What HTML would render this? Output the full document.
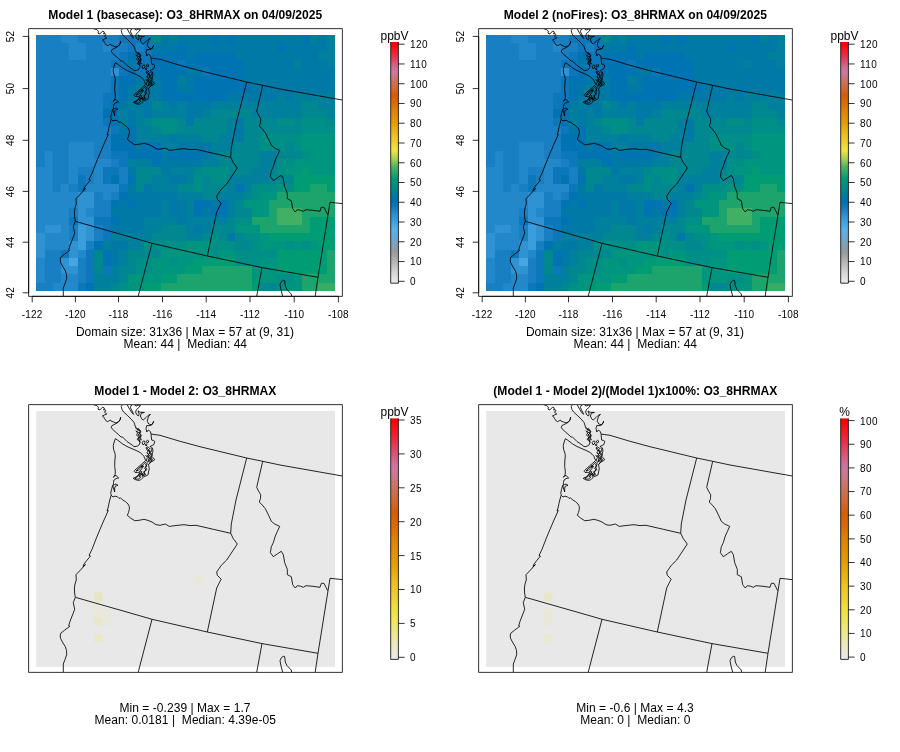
<!DOCTYPE html>
<html><head><meta charset="utf-8"><title>O3_8HRMAX model comparison</title>
<style>html,body{margin:0;padding:0;background:#fff}svg{display:block}text{white-space:pre}</style>
</head><body>
<svg width="900" height="752" viewBox="0 0 900 752">
<rect width="900" height="752" fill="#fff"/>
<defs>
<clipPath id="cp0"><rect x="28.70" y="28.70" width="313.60" height="267.60"/></clipPath>
<clipPath id="cp1"><rect x="478.70" y="28.70" width="313.60" height="267.60"/></clipPath>
<clipPath id="cp2"><rect x="28.70" y="404.70" width="313.60" height="267.60"/></clipPath>
<clipPath id="cp3"><rect x="478.70" y="404.70" width="313.60" height="267.60"/></clipPath>
</defs>
<g shape-rendering="crispEdges">
<rect x="36.20" y="35.00" width="25.20" height="8.55" fill="#1880c2"/>
<rect x="61.10" y="35.00" width="16.90" height="8.55" fill="#2388c9"/>
<rect x="77.70" y="35.00" width="41.80" height="8.55" fill="#1880c2"/>
<rect x="119.20" y="35.00" width="33.50" height="8.55" fill="#0c77ba"/>
<rect x="152.40" y="35.00" width="8.60" height="8.55" fill="#00878f"/>
<rect x="160.70" y="35.00" width="8.60" height="8.55" fill="#0079a6"/>
<rect x="169.00" y="35.00" width="8.60" height="8.55" fill="#00809c"/>
<rect x="177.30" y="35.00" width="33.50" height="8.55" fill="#0079a6"/>
<rect x="210.50" y="35.00" width="8.60" height="8.55" fill="#0073b3"/>
<rect x="218.80" y="35.00" width="8.60" height="8.55" fill="#0079a6"/>
<rect x="227.10" y="35.00" width="8.60" height="8.55" fill="#0073b3"/>
<rect x="235.40" y="35.00" width="66.70" height="8.55" fill="#0079a6"/>
<rect x="301.80" y="35.00" width="8.60" height="8.55" fill="#0073b3"/>
<rect x="310.10" y="35.00" width="8.60" height="8.55" fill="#00809c"/>
<rect x="318.40" y="35.00" width="8.60" height="8.55" fill="#0079a6"/>
<rect x="326.70" y="35.00" width="8.60" height="8.55" fill="#00809c"/>
<rect x="36.20" y="43.25" width="33.50" height="8.55" fill="#1880c2"/>
<rect x="69.40" y="43.25" width="16.90" height="8.55" fill="#2388c9"/>
<rect x="86.00" y="43.25" width="16.90" height="8.55" fill="#1880c2"/>
<rect x="102.60" y="43.25" width="8.60" height="8.55" fill="#2388c9"/>
<rect x="110.90" y="43.25" width="16.90" height="8.55" fill="#1880c2"/>
<rect x="127.50" y="43.25" width="8.60" height="8.55" fill="#0c77ba"/>
<rect x="135.80" y="43.25" width="8.60" height="8.55" fill="#1880c2"/>
<rect x="144.10" y="43.25" width="8.60" height="8.55" fill="#0c77ba"/>
<rect x="152.40" y="43.25" width="25.20" height="8.55" fill="#0079a6"/>
<rect x="177.30" y="43.25" width="8.60" height="8.55" fill="#0073b3"/>
<rect x="185.60" y="43.25" width="91.60" height="8.55" fill="#0079a6"/>
<rect x="276.90" y="43.25" width="8.60" height="8.55" fill="#0073b3"/>
<rect x="285.20" y="43.25" width="41.80" height="8.55" fill="#0079a6"/>
<rect x="326.70" y="43.25" width="8.60" height="8.55" fill="#00809c"/>
<rect x="36.20" y="51.50" width="33.50" height="8.55" fill="#1880c2"/>
<rect x="69.40" y="51.50" width="16.90" height="8.55" fill="#2388c9"/>
<rect x="86.00" y="51.50" width="33.50" height="8.55" fill="#1880c2"/>
<rect x="119.20" y="51.50" width="8.60" height="8.55" fill="#0c77ba"/>
<rect x="127.50" y="51.50" width="8.60" height="8.55" fill="#0073b3"/>
<rect x="135.80" y="51.50" width="16.90" height="8.55" fill="#0c77ba"/>
<rect x="152.40" y="51.50" width="33.50" height="8.55" fill="#0073b3"/>
<rect x="185.60" y="51.50" width="8.60" height="8.55" fill="#0079a6"/>
<rect x="193.90" y="51.50" width="41.80" height="8.55" fill="#0073b3"/>
<rect x="235.40" y="51.50" width="83.30" height="8.55" fill="#0079a6"/>
<rect x="318.40" y="51.50" width="16.90" height="8.55" fill="#00809c"/>
<rect x="36.20" y="59.75" width="75.00" height="8.55" fill="#1880c2"/>
<rect x="110.90" y="59.75" width="16.90" height="8.55" fill="#0c77ba"/>
<rect x="127.50" y="59.75" width="8.60" height="8.55" fill="#0079a6"/>
<rect x="135.80" y="59.75" width="16.90" height="8.55" fill="#0c77ba"/>
<rect x="152.40" y="59.75" width="25.20" height="8.55" fill="#0073b3"/>
<rect x="177.30" y="59.75" width="8.60" height="8.55" fill="#0c77ba"/>
<rect x="185.60" y="59.75" width="58.40" height="8.55" fill="#0073b3"/>
<rect x="243.70" y="59.75" width="50.10" height="8.55" fill="#0079a6"/>
<rect x="293.50" y="59.75" width="8.60" height="8.55" fill="#00809c"/>
<rect x="301.80" y="59.75" width="25.20" height="8.55" fill="#0079a6"/>
<rect x="326.70" y="59.75" width="8.60" height="8.55" fill="#00809c"/>
<rect x="36.20" y="68.01" width="75.00" height="8.55" fill="#1880c2"/>
<rect x="110.90" y="68.01" width="8.60" height="8.55" fill="#2f93d3"/>
<rect x="119.20" y="68.01" width="8.60" height="8.55" fill="#0c77ba"/>
<rect x="127.50" y="68.01" width="8.60" height="8.55" fill="#0073b3"/>
<rect x="135.80" y="68.01" width="16.90" height="8.55" fill="#0c77ba"/>
<rect x="152.40" y="68.01" width="33.50" height="8.55" fill="#0073b3"/>
<rect x="185.60" y="68.01" width="16.90" height="8.55" fill="#0079a6"/>
<rect x="202.20" y="68.01" width="8.60" height="8.55" fill="#0c77ba"/>
<rect x="210.50" y="68.01" width="33.50" height="8.55" fill="#0073b3"/>
<rect x="243.70" y="68.01" width="91.60" height="8.55" fill="#0079a6"/>
<rect x="36.20" y="76.26" width="75.00" height="8.55" fill="#1880c2"/>
<rect x="110.90" y="76.26" width="8.60" height="8.55" fill="#0c77ba"/>
<rect x="119.20" y="76.26" width="16.90" height="8.55" fill="#0073b3"/>
<rect x="135.80" y="76.26" width="25.20" height="8.55" fill="#0079a6"/>
<rect x="160.70" y="76.26" width="16.90" height="8.55" fill="#0073b3"/>
<rect x="177.30" y="76.26" width="8.60" height="8.55" fill="#00809c"/>
<rect x="185.60" y="76.26" width="8.60" height="8.55" fill="#0079a6"/>
<rect x="193.90" y="76.26" width="50.10" height="8.55" fill="#0073b3"/>
<rect x="243.70" y="76.26" width="91.60" height="8.55" fill="#0079a6"/>
<rect x="36.20" y="84.51" width="75.00" height="8.55" fill="#1880c2"/>
<rect x="110.90" y="84.51" width="8.60" height="8.55" fill="#0c77ba"/>
<rect x="119.20" y="84.51" width="8.60" height="8.55" fill="#0073b3"/>
<rect x="127.50" y="84.51" width="8.60" height="8.55" fill="#0079a6"/>
<rect x="135.80" y="84.51" width="8.60" height="8.55" fill="#00809c"/>
<rect x="144.10" y="84.51" width="16.90" height="8.55" fill="#0079a6"/>
<rect x="160.70" y="84.51" width="16.90" height="8.55" fill="#0073b3"/>
<rect x="177.30" y="84.51" width="16.90" height="8.55" fill="#0079a6"/>
<rect x="193.90" y="84.51" width="58.40" height="8.55" fill="#0073b3"/>
<rect x="252.00" y="84.51" width="83.30" height="8.55" fill="#0079a6"/>
<rect x="36.20" y="92.76" width="66.70" height="8.55" fill="#1880c2"/>
<rect x="102.60" y="92.76" width="16.90" height="8.55" fill="#0c77ba"/>
<rect x="119.20" y="92.76" width="8.60" height="8.55" fill="#0073b3"/>
<rect x="127.50" y="92.76" width="8.60" height="8.55" fill="#0079a6"/>
<rect x="135.80" y="92.76" width="8.60" height="8.55" fill="#00809c"/>
<rect x="144.10" y="92.76" width="16.90" height="8.55" fill="#0079a6"/>
<rect x="160.70" y="92.76" width="66.70" height="8.55" fill="#0073b3"/>
<rect x="227.10" y="92.76" width="50.10" height="8.55" fill="#0079a6"/>
<rect x="276.90" y="92.76" width="8.60" height="8.55" fill="#00809c"/>
<rect x="285.20" y="92.76" width="8.60" height="8.55" fill="#0079a6"/>
<rect x="293.50" y="92.76" width="41.80" height="8.55" fill="#00809c"/>
<rect x="36.20" y="101.01" width="66.70" height="8.55" fill="#1880c2"/>
<rect x="102.60" y="101.01" width="8.60" height="8.55" fill="#0c77ba"/>
<rect x="110.90" y="101.01" width="8.60" height="8.55" fill="#0073b3"/>
<rect x="119.20" y="101.01" width="8.60" height="8.55" fill="#0079a6"/>
<rect x="127.50" y="101.01" width="8.60" height="8.55" fill="#00809c"/>
<rect x="135.80" y="101.01" width="16.90" height="8.55" fill="#0079a6"/>
<rect x="152.40" y="101.01" width="8.60" height="8.55" fill="#00878f"/>
<rect x="160.70" y="101.01" width="8.60" height="8.55" fill="#00809c"/>
<rect x="169.00" y="101.01" width="8.60" height="8.55" fill="#0079a6"/>
<rect x="177.30" y="101.01" width="8.60" height="8.55" fill="#00809c"/>
<rect x="185.60" y="101.01" width="25.20" height="8.55" fill="#0079a6"/>
<rect x="210.50" y="101.01" width="91.60" height="8.55" fill="#00809c"/>
<rect x="301.80" y="101.01" width="16.90" height="8.55" fill="#00878f"/>
<rect x="318.40" y="101.01" width="16.90" height="8.55" fill="#00809c"/>
<rect x="36.20" y="109.26" width="66.70" height="8.55" fill="#1880c2"/>
<rect x="102.60" y="109.26" width="16.90" height="8.55" fill="#0073b3"/>
<rect x="119.20" y="109.26" width="8.60" height="8.55" fill="#00809c"/>
<rect x="127.50" y="109.26" width="8.60" height="8.55" fill="#0079a6"/>
<rect x="135.80" y="109.26" width="8.60" height="8.55" fill="#00809c"/>
<rect x="144.10" y="109.26" width="8.60" height="8.55" fill="#0079a6"/>
<rect x="152.40" y="109.26" width="33.50" height="8.55" fill="#00809c"/>
<rect x="185.60" y="109.26" width="16.90" height="8.55" fill="#0079a6"/>
<rect x="202.20" y="109.26" width="8.60" height="8.55" fill="#00809c"/>
<rect x="210.50" y="109.26" width="41.80" height="8.55" fill="#00878f"/>
<rect x="252.00" y="109.26" width="50.10" height="8.55" fill="#00809c"/>
<rect x="301.80" y="109.26" width="25.20" height="8.55" fill="#00878f"/>
<rect x="326.70" y="109.26" width="8.60" height="8.55" fill="#00809c"/>
<rect x="36.20" y="117.52" width="66.70" height="8.55" fill="#1880c2"/>
<rect x="102.60" y="117.52" width="8.60" height="8.55" fill="#0c77ba"/>
<rect x="110.90" y="117.52" width="8.60" height="8.55" fill="#0073b3"/>
<rect x="119.20" y="117.52" width="8.60" height="8.55" fill="#00809c"/>
<rect x="127.50" y="117.52" width="8.60" height="8.55" fill="#0079a6"/>
<rect x="135.80" y="117.52" width="8.60" height="8.55" fill="#00809c"/>
<rect x="144.10" y="117.52" width="8.60" height="8.55" fill="#00878f"/>
<rect x="152.40" y="117.52" width="25.20" height="8.55" fill="#008f86"/>
<rect x="177.30" y="117.52" width="8.60" height="8.55" fill="#00878f"/>
<rect x="185.60" y="117.52" width="8.60" height="8.55" fill="#0079a6"/>
<rect x="193.90" y="117.52" width="33.50" height="8.55" fill="#00878f"/>
<rect x="227.10" y="117.52" width="8.60" height="8.55" fill="#00809c"/>
<rect x="235.40" y="117.52" width="8.60" height="8.55" fill="#0079a6"/>
<rect x="243.70" y="117.52" width="33.50" height="8.55" fill="#00878f"/>
<rect x="276.90" y="117.52" width="16.90" height="8.55" fill="#008f86"/>
<rect x="293.50" y="117.52" width="8.60" height="8.55" fill="#00878f"/>
<rect x="301.80" y="117.52" width="25.20" height="8.55" fill="#008f86"/>
<rect x="326.70" y="117.52" width="8.60" height="8.55" fill="#00878f"/>
<rect x="36.20" y="125.77" width="75.00" height="8.55" fill="#1880c2"/>
<rect x="110.90" y="125.77" width="8.60" height="8.55" fill="#0c77ba"/>
<rect x="119.20" y="125.77" width="8.60" height="8.55" fill="#0079a6"/>
<rect x="127.50" y="125.77" width="8.60" height="8.55" fill="#0073b3"/>
<rect x="135.80" y="125.77" width="16.90" height="8.55" fill="#00809c"/>
<rect x="152.40" y="125.77" width="8.60" height="8.55" fill="#00878f"/>
<rect x="160.70" y="125.77" width="16.90" height="8.55" fill="#008f86"/>
<rect x="177.30" y="125.77" width="50.10" height="8.55" fill="#00878f"/>
<rect x="227.10" y="125.77" width="8.60" height="8.55" fill="#00809c"/>
<rect x="235.40" y="125.77" width="8.60" height="8.55" fill="#0079a6"/>
<rect x="243.70" y="125.77" width="58.40" height="8.55" fill="#00878f"/>
<rect x="301.80" y="125.77" width="33.50" height="8.55" fill="#008f86"/>
<rect x="36.20" y="134.02" width="75.00" height="8.55" fill="#1880c2"/>
<rect x="110.90" y="134.02" width="25.20" height="8.55" fill="#0073b3"/>
<rect x="135.80" y="134.02" width="33.50" height="8.55" fill="#00809c"/>
<rect x="169.00" y="134.02" width="8.60" height="8.55" fill="#0079a6"/>
<rect x="177.30" y="134.02" width="25.20" height="8.55" fill="#00809c"/>
<rect x="202.20" y="134.02" width="16.90" height="8.55" fill="#00878f"/>
<rect x="218.80" y="134.02" width="16.90" height="8.55" fill="#00809c"/>
<rect x="235.40" y="134.02" width="8.60" height="8.55" fill="#0079a6"/>
<rect x="243.70" y="134.02" width="16.90" height="8.55" fill="#00878f"/>
<rect x="260.30" y="134.02" width="41.80" height="8.55" fill="#008f86"/>
<rect x="301.80" y="134.02" width="33.50" height="8.55" fill="#00957e"/>
<rect x="36.20" y="142.27" width="33.50" height="8.55" fill="#1880c2"/>
<rect x="69.40" y="142.27" width="25.20" height="8.55" fill="#2388c9"/>
<rect x="94.30" y="142.27" width="16.90" height="8.55" fill="#1880c2"/>
<rect x="110.90" y="142.27" width="25.20" height="8.55" fill="#0073b3"/>
<rect x="135.80" y="142.27" width="8.60" height="8.55" fill="#0079a6"/>
<rect x="144.10" y="142.27" width="16.90" height="8.55" fill="#0073b3"/>
<rect x="160.70" y="142.27" width="16.90" height="8.55" fill="#00809c"/>
<rect x="177.30" y="142.27" width="33.50" height="8.55" fill="#0079a6"/>
<rect x="210.50" y="142.27" width="25.20" height="8.55" fill="#00809c"/>
<rect x="235.40" y="142.27" width="25.20" height="8.55" fill="#00878f"/>
<rect x="260.30" y="142.27" width="25.20" height="8.55" fill="#008f86"/>
<rect x="285.20" y="142.27" width="8.60" height="8.55" fill="#00878f"/>
<rect x="293.50" y="142.27" width="8.60" height="8.55" fill="#008f86"/>
<rect x="301.80" y="142.27" width="33.50" height="8.55" fill="#00957e"/>
<rect x="36.20" y="150.52" width="8.60" height="8.55" fill="#1880c2"/>
<rect x="44.50" y="150.52" width="8.60" height="8.55" fill="#2388c9"/>
<rect x="52.80" y="150.52" width="16.90" height="8.55" fill="#1880c2"/>
<rect x="69.40" y="150.52" width="25.20" height="8.55" fill="#2388c9"/>
<rect x="94.30" y="150.52" width="16.90" height="8.55" fill="#1880c2"/>
<rect x="110.90" y="150.52" width="16.90" height="8.55" fill="#0c77ba"/>
<rect x="127.50" y="150.52" width="33.50" height="8.55" fill="#0073b3"/>
<rect x="160.70" y="150.52" width="8.60" height="8.55" fill="#0079a6"/>
<rect x="169.00" y="150.52" width="33.50" height="8.55" fill="#0073b3"/>
<rect x="202.20" y="150.52" width="8.60" height="8.55" fill="#0079a6"/>
<rect x="210.50" y="150.52" width="8.60" height="8.55" fill="#00809c"/>
<rect x="218.80" y="150.52" width="41.80" height="8.55" fill="#00878f"/>
<rect x="260.30" y="150.52" width="16.90" height="8.55" fill="#00809c"/>
<rect x="276.90" y="150.52" width="25.20" height="8.55" fill="#00878f"/>
<rect x="301.80" y="150.52" width="8.60" height="8.55" fill="#008f86"/>
<rect x="310.10" y="150.52" width="25.20" height="8.55" fill="#00957e"/>
<rect x="36.20" y="158.77" width="8.60" height="8.55" fill="#1880c2"/>
<rect x="44.50" y="158.77" width="8.60" height="8.55" fill="#2388c9"/>
<rect x="52.80" y="158.77" width="16.90" height="8.55" fill="#1880c2"/>
<rect x="69.40" y="158.77" width="41.80" height="8.55" fill="#2388c9"/>
<rect x="110.90" y="158.77" width="8.60" height="8.55" fill="#1880c2"/>
<rect x="119.20" y="158.77" width="8.60" height="8.55" fill="#0c77ba"/>
<rect x="127.50" y="158.77" width="25.20" height="8.55" fill="#00809c"/>
<rect x="152.40" y="158.77" width="8.60" height="8.55" fill="#0073b3"/>
<rect x="160.70" y="158.77" width="41.80" height="8.55" fill="#0079a6"/>
<rect x="202.20" y="158.77" width="16.90" height="8.55" fill="#00809c"/>
<rect x="218.80" y="158.77" width="41.80" height="8.55" fill="#00878f"/>
<rect x="260.30" y="158.77" width="16.90" height="8.55" fill="#00809c"/>
<rect x="276.90" y="158.77" width="16.90" height="8.55" fill="#008f86"/>
<rect x="293.50" y="158.77" width="41.80" height="8.55" fill="#00957e"/>
<rect x="36.20" y="167.03" width="16.90" height="8.55" fill="#2388c9"/>
<rect x="52.80" y="167.03" width="16.90" height="8.55" fill="#1880c2"/>
<rect x="69.40" y="167.03" width="8.60" height="8.55" fill="#2388c9"/>
<rect x="77.70" y="167.03" width="16.90" height="8.55" fill="#1880c2"/>
<rect x="94.30" y="167.03" width="8.60" height="8.55" fill="#2388c9"/>
<rect x="102.60" y="167.03" width="16.90" height="8.55" fill="#0c77ba"/>
<rect x="119.20" y="167.03" width="8.60" height="8.55" fill="#1880c2"/>
<rect x="127.50" y="167.03" width="8.60" height="8.55" fill="#0079a6"/>
<rect x="135.80" y="167.03" width="25.20" height="8.55" fill="#00878f"/>
<rect x="160.70" y="167.03" width="8.60" height="8.55" fill="#0079a6"/>
<rect x="169.00" y="167.03" width="25.20" height="8.55" fill="#00809c"/>
<rect x="193.90" y="167.03" width="8.60" height="8.55" fill="#00878f"/>
<rect x="202.20" y="167.03" width="25.20" height="8.55" fill="#008f86"/>
<rect x="227.10" y="167.03" width="25.20" height="8.55" fill="#00878f"/>
<rect x="252.00" y="167.03" width="16.90" height="8.55" fill="#00809c"/>
<rect x="268.60" y="167.03" width="8.60" height="8.55" fill="#00878f"/>
<rect x="276.90" y="167.03" width="8.60" height="8.55" fill="#008f86"/>
<rect x="285.20" y="167.03" width="16.90" height="8.55" fill="#00957e"/>
<rect x="301.80" y="167.03" width="8.60" height="8.55" fill="#009c74"/>
<rect x="310.10" y="167.03" width="25.20" height="8.55" fill="#00957e"/>
<rect x="36.20" y="175.28" width="16.90" height="8.55" fill="#2388c9"/>
<rect x="52.80" y="175.28" width="16.90" height="8.55" fill="#1880c2"/>
<rect x="69.40" y="175.28" width="8.60" height="8.55" fill="#2388c9"/>
<rect x="77.70" y="175.28" width="8.60" height="8.55" fill="#0c77ba"/>
<rect x="86.00" y="175.28" width="8.60" height="8.55" fill="#1880c2"/>
<rect x="94.30" y="175.28" width="8.60" height="8.55" fill="#2388c9"/>
<rect x="102.60" y="175.28" width="8.60" height="8.55" fill="#0c77ba"/>
<rect x="110.90" y="175.28" width="8.60" height="8.55" fill="#0073b3"/>
<rect x="119.20" y="175.28" width="8.60" height="8.55" fill="#1880c2"/>
<rect x="127.50" y="175.28" width="8.60" height="8.55" fill="#0073b3"/>
<rect x="135.80" y="175.28" width="16.90" height="8.55" fill="#00878f"/>
<rect x="152.40" y="175.28" width="16.90" height="8.55" fill="#00809c"/>
<rect x="169.00" y="175.28" width="16.90" height="8.55" fill="#0079a6"/>
<rect x="185.60" y="175.28" width="8.60" height="8.55" fill="#00809c"/>
<rect x="193.90" y="175.28" width="8.60" height="8.55" fill="#008f86"/>
<rect x="202.20" y="175.28" width="8.60" height="8.55" fill="#00878f"/>
<rect x="210.50" y="175.28" width="16.90" height="8.55" fill="#008f86"/>
<rect x="227.10" y="175.28" width="41.80" height="8.55" fill="#00809c"/>
<rect x="268.60" y="175.28" width="25.20" height="8.55" fill="#00878f"/>
<rect x="293.50" y="175.28" width="41.80" height="8.55" fill="#009c74"/>
<rect x="36.20" y="183.53" width="16.90" height="8.55" fill="#2388c9"/>
<rect x="52.80" y="183.53" width="8.60" height="8.55" fill="#1880c2"/>
<rect x="61.10" y="183.53" width="8.60" height="8.55" fill="#2388c9"/>
<rect x="69.40" y="183.53" width="8.60" height="8.55" fill="#1880c2"/>
<rect x="77.70" y="183.53" width="8.60" height="8.55" fill="#0c77ba"/>
<rect x="86.00" y="183.53" width="33.50" height="8.55" fill="#2388c9"/>
<rect x="119.20" y="183.53" width="8.60" height="8.55" fill="#0c77ba"/>
<rect x="127.50" y="183.53" width="8.60" height="8.55" fill="#0079a6"/>
<rect x="135.80" y="183.53" width="8.60" height="8.55" fill="#00878f"/>
<rect x="144.10" y="183.53" width="8.60" height="8.55" fill="#0079a6"/>
<rect x="152.40" y="183.53" width="25.20" height="8.55" fill="#00809c"/>
<rect x="177.30" y="183.53" width="16.90" height="8.55" fill="#00878f"/>
<rect x="193.90" y="183.53" width="8.60" height="8.55" fill="#008f86"/>
<rect x="202.20" y="183.53" width="25.20" height="8.55" fill="#00878f"/>
<rect x="227.10" y="183.53" width="8.60" height="8.55" fill="#00809c"/>
<rect x="235.40" y="183.53" width="8.60" height="8.55" fill="#0073b3"/>
<rect x="243.70" y="183.53" width="8.60" height="8.55" fill="#00809c"/>
<rect x="252.00" y="183.53" width="25.20" height="8.55" fill="#008f86"/>
<rect x="276.90" y="183.53" width="8.60" height="8.55" fill="#00957e"/>
<rect x="285.20" y="183.53" width="8.60" height="8.55" fill="#008f86"/>
<rect x="293.50" y="183.53" width="16.90" height="8.55" fill="#009c74"/>
<rect x="310.10" y="183.53" width="16.90" height="8.55" fill="#1ca46c"/>
<rect x="326.70" y="183.53" width="8.60" height="8.55" fill="#009c74"/>
<rect x="36.20" y="191.78" width="41.80" height="8.55" fill="#2388c9"/>
<rect x="77.70" y="191.78" width="16.90" height="8.55" fill="#2f93d3"/>
<rect x="94.30" y="191.78" width="8.60" height="8.55" fill="#1880c2"/>
<rect x="102.60" y="191.78" width="8.60" height="8.55" fill="#2388c9"/>
<rect x="110.90" y="191.78" width="8.60" height="8.55" fill="#1880c2"/>
<rect x="119.20" y="191.78" width="8.60" height="8.55" fill="#0073b3"/>
<rect x="127.50" y="191.78" width="50.10" height="8.55" fill="#0079a6"/>
<rect x="177.30" y="191.78" width="25.20" height="8.55" fill="#00809c"/>
<rect x="202.20" y="191.78" width="16.90" height="8.55" fill="#00878f"/>
<rect x="218.80" y="191.78" width="25.20" height="8.55" fill="#00809c"/>
<rect x="243.70" y="191.78" width="8.60" height="8.55" fill="#00878f"/>
<rect x="252.00" y="191.78" width="8.60" height="8.55" fill="#008f86"/>
<rect x="260.30" y="191.78" width="16.90" height="8.55" fill="#00957e"/>
<rect x="276.90" y="191.78" width="58.40" height="8.55" fill="#1ca46c"/>
<rect x="36.20" y="200.03" width="41.80" height="8.55" fill="#2388c9"/>
<rect x="77.70" y="200.03" width="16.90" height="8.55" fill="#2f93d3"/>
<rect x="94.30" y="200.03" width="16.90" height="8.55" fill="#1880c2"/>
<rect x="110.90" y="200.03" width="8.60" height="8.55" fill="#0073b3"/>
<rect x="119.20" y="200.03" width="8.60" height="8.55" fill="#0079a6"/>
<rect x="127.50" y="200.03" width="8.60" height="8.55" fill="#0073b3"/>
<rect x="135.80" y="200.03" width="25.20" height="8.55" fill="#0079a6"/>
<rect x="160.70" y="200.03" width="8.60" height="8.55" fill="#00809c"/>
<rect x="169.00" y="200.03" width="16.90" height="8.55" fill="#0079a6"/>
<rect x="185.60" y="200.03" width="8.60" height="8.55" fill="#00809c"/>
<rect x="193.90" y="200.03" width="16.90" height="8.55" fill="#0073b3"/>
<rect x="210.50" y="200.03" width="8.60" height="8.55" fill="#0079a6"/>
<rect x="218.80" y="200.03" width="8.60" height="8.55" fill="#0073b3"/>
<rect x="227.10" y="200.03" width="8.60" height="8.55" fill="#00809c"/>
<rect x="235.40" y="200.03" width="8.60" height="8.55" fill="#00878f"/>
<rect x="243.70" y="200.03" width="25.20" height="8.55" fill="#00957e"/>
<rect x="268.60" y="200.03" width="66.70" height="8.55" fill="#1ca46c"/>
<rect x="36.20" y="208.28" width="33.50" height="8.55" fill="#2388c9"/>
<rect x="69.40" y="208.28" width="8.60" height="8.55" fill="#1880c2"/>
<rect x="77.70" y="208.28" width="8.60" height="8.55" fill="#2f93d3"/>
<rect x="86.00" y="208.28" width="8.60" height="8.55" fill="#2388c9"/>
<rect x="94.30" y="208.28" width="16.90" height="8.55" fill="#1880c2"/>
<rect x="110.90" y="208.28" width="50.10" height="8.55" fill="#0079a6"/>
<rect x="160.70" y="208.28" width="8.60" height="8.55" fill="#00809c"/>
<rect x="169.00" y="208.28" width="16.90" height="8.55" fill="#0079a6"/>
<rect x="185.60" y="208.28" width="8.60" height="8.55" fill="#00809c"/>
<rect x="193.90" y="208.28" width="8.60" height="8.55" fill="#0073b3"/>
<rect x="202.20" y="208.28" width="8.60" height="8.55" fill="#0079a6"/>
<rect x="210.50" y="208.28" width="16.90" height="8.55" fill="#0073b3"/>
<rect x="227.10" y="208.28" width="8.60" height="8.55" fill="#00809c"/>
<rect x="235.40" y="208.28" width="16.90" height="8.55" fill="#00878f"/>
<rect x="252.00" y="208.28" width="16.90" height="8.55" fill="#00957e"/>
<rect x="268.60" y="208.28" width="8.60" height="8.55" fill="#1ca46c"/>
<rect x="276.90" y="208.28" width="25.20" height="8.55" fill="#42b064"/>
<rect x="301.80" y="208.28" width="33.50" height="8.55" fill="#1ca46c"/>
<rect x="36.20" y="216.54" width="33.50" height="8.55" fill="#2388c9"/>
<rect x="69.40" y="216.54" width="8.60" height="8.55" fill="#0c77ba"/>
<rect x="77.70" y="216.54" width="16.90" height="8.55" fill="#2f93d3"/>
<rect x="94.30" y="216.54" width="16.90" height="8.55" fill="#0c77ba"/>
<rect x="110.90" y="216.54" width="8.60" height="8.55" fill="#0073b3"/>
<rect x="119.20" y="216.54" width="25.20" height="8.55" fill="#0079a6"/>
<rect x="144.10" y="216.54" width="33.50" height="8.55" fill="#00809c"/>
<rect x="177.30" y="216.54" width="8.60" height="8.55" fill="#0079a6"/>
<rect x="185.60" y="216.54" width="41.80" height="8.55" fill="#00809c"/>
<rect x="227.10" y="216.54" width="8.60" height="8.55" fill="#00878f"/>
<rect x="235.40" y="216.54" width="16.90" height="8.55" fill="#008f86"/>
<rect x="252.00" y="216.54" width="25.20" height="8.55" fill="#1ca46c"/>
<rect x="276.90" y="216.54" width="25.20" height="8.55" fill="#42b064"/>
<rect x="301.80" y="216.54" width="8.60" height="8.55" fill="#1ca46c"/>
<rect x="310.10" y="216.54" width="25.20" height="8.55" fill="#009c74"/>
<rect x="36.20" y="224.79" width="8.60" height="8.55" fill="#2388c9"/>
<rect x="44.50" y="224.79" width="16.90" height="8.55" fill="#2f93d3"/>
<rect x="61.10" y="224.79" width="8.60" height="8.55" fill="#2388c9"/>
<rect x="69.40" y="224.79" width="8.60" height="8.55" fill="#1880c2"/>
<rect x="77.70" y="224.79" width="8.60" height="8.55" fill="#3a9ddc"/>
<rect x="86.00" y="224.79" width="8.60" height="8.55" fill="#2f93d3"/>
<rect x="94.30" y="224.79" width="8.60" height="8.55" fill="#1880c2"/>
<rect x="102.60" y="224.79" width="8.60" height="8.55" fill="#0c77ba"/>
<rect x="110.90" y="224.79" width="33.50" height="8.55" fill="#0079a6"/>
<rect x="144.10" y="224.79" width="16.90" height="8.55" fill="#00809c"/>
<rect x="160.70" y="224.79" width="25.20" height="8.55" fill="#00878f"/>
<rect x="185.60" y="224.79" width="8.60" height="8.55" fill="#00809c"/>
<rect x="193.90" y="224.79" width="8.60" height="8.55" fill="#0079a6"/>
<rect x="202.20" y="224.79" width="8.60" height="8.55" fill="#00809c"/>
<rect x="210.50" y="224.79" width="25.20" height="8.55" fill="#00878f"/>
<rect x="235.40" y="224.79" width="25.20" height="8.55" fill="#00957e"/>
<rect x="260.30" y="224.79" width="50.10" height="8.55" fill="#1ca46c"/>
<rect x="310.10" y="224.79" width="25.20" height="8.55" fill="#009c74"/>
<rect x="36.20" y="233.04" width="8.60" height="8.55" fill="#2f93d3"/>
<rect x="44.50" y="233.04" width="25.20" height="8.55" fill="#2388c9"/>
<rect x="69.40" y="233.04" width="8.60" height="8.55" fill="#1880c2"/>
<rect x="77.70" y="233.04" width="8.60" height="8.55" fill="#3a9ddc"/>
<rect x="86.00" y="233.04" width="8.60" height="8.55" fill="#2f93d3"/>
<rect x="94.30" y="233.04" width="8.60" height="8.55" fill="#1880c2"/>
<rect x="102.60" y="233.04" width="8.60" height="8.55" fill="#0c77ba"/>
<rect x="110.90" y="233.04" width="41.80" height="8.55" fill="#00809c"/>
<rect x="152.40" y="233.04" width="33.50" height="8.55" fill="#00878f"/>
<rect x="185.60" y="233.04" width="16.90" height="8.55" fill="#00809c"/>
<rect x="202.20" y="233.04" width="8.60" height="8.55" fill="#00878f"/>
<rect x="210.50" y="233.04" width="8.60" height="8.55" fill="#008f86"/>
<rect x="218.80" y="233.04" width="8.60" height="8.55" fill="#00878f"/>
<rect x="227.10" y="233.04" width="8.60" height="8.55" fill="#0079a6"/>
<rect x="235.40" y="233.04" width="8.60" height="8.55" fill="#00878f"/>
<rect x="243.70" y="233.04" width="16.90" height="8.55" fill="#008f86"/>
<rect x="260.30" y="233.04" width="8.60" height="8.55" fill="#00957e"/>
<rect x="268.60" y="233.04" width="66.70" height="8.55" fill="#009c74"/>
<rect x="36.20" y="241.29" width="8.60" height="8.55" fill="#2f93d3"/>
<rect x="44.50" y="241.29" width="25.20" height="8.55" fill="#2388c9"/>
<rect x="69.40" y="241.29" width="8.60" height="8.55" fill="#2f93d3"/>
<rect x="77.70" y="241.29" width="8.60" height="8.55" fill="#3a9ddc"/>
<rect x="86.00" y="241.29" width="8.60" height="8.55" fill="#1880c2"/>
<rect x="94.30" y="241.29" width="8.60" height="8.55" fill="#0073b3"/>
<rect x="102.60" y="241.29" width="8.60" height="8.55" fill="#00809c"/>
<rect x="110.90" y="241.29" width="16.90" height="8.55" fill="#0079a6"/>
<rect x="127.50" y="241.29" width="16.90" height="8.55" fill="#00809c"/>
<rect x="144.10" y="241.29" width="41.80" height="8.55" fill="#008f86"/>
<rect x="185.60" y="241.29" width="25.20" height="8.55" fill="#00957e"/>
<rect x="210.50" y="241.29" width="25.20" height="8.55" fill="#008f86"/>
<rect x="235.40" y="241.29" width="16.90" height="8.55" fill="#00878f"/>
<rect x="252.00" y="241.29" width="8.60" height="8.55" fill="#008f86"/>
<rect x="260.30" y="241.29" width="25.20" height="8.55" fill="#00957e"/>
<rect x="285.20" y="241.29" width="8.60" height="8.55" fill="#008f86"/>
<rect x="293.50" y="241.29" width="8.60" height="8.55" fill="#00957e"/>
<rect x="301.80" y="241.29" width="8.60" height="8.55" fill="#008f86"/>
<rect x="310.10" y="241.29" width="8.60" height="8.55" fill="#00957e"/>
<rect x="318.40" y="241.29" width="16.90" height="8.55" fill="#009c74"/>
<rect x="36.20" y="249.54" width="8.60" height="8.55" fill="#2f93d3"/>
<rect x="44.50" y="249.54" width="16.90" height="8.55" fill="#1880c2"/>
<rect x="61.10" y="249.54" width="8.60" height="8.55" fill="#0c77ba"/>
<rect x="69.40" y="249.54" width="8.60" height="8.55" fill="#2f93d3"/>
<rect x="77.70" y="249.54" width="8.60" height="8.55" fill="#2388c9"/>
<rect x="86.00" y="249.54" width="8.60" height="8.55" fill="#0c77ba"/>
<rect x="94.30" y="249.54" width="8.60" height="8.55" fill="#00878f"/>
<rect x="102.60" y="249.54" width="8.60" height="8.55" fill="#0073b3"/>
<rect x="110.90" y="249.54" width="8.60" height="8.55" fill="#0079a6"/>
<rect x="119.20" y="249.54" width="8.60" height="8.55" fill="#00809c"/>
<rect x="127.50" y="249.54" width="33.50" height="8.55" fill="#00878f"/>
<rect x="160.70" y="249.54" width="50.10" height="8.55" fill="#00957e"/>
<rect x="210.50" y="249.54" width="8.60" height="8.55" fill="#008f86"/>
<rect x="218.80" y="249.54" width="16.90" height="8.55" fill="#00957e"/>
<rect x="235.40" y="249.54" width="41.80" height="8.55" fill="#008f86"/>
<rect x="276.90" y="249.54" width="50.10" height="8.55" fill="#009c74"/>
<rect x="326.70" y="249.54" width="8.60" height="8.55" fill="#1ca46c"/>
<rect x="36.20" y="257.79" width="8.60" height="8.55" fill="#2388c9"/>
<rect x="44.50" y="257.79" width="16.90" height="8.55" fill="#1880c2"/>
<rect x="61.10" y="257.79" width="8.60" height="8.55" fill="#2f93d3"/>
<rect x="69.40" y="257.79" width="8.60" height="8.55" fill="#46a6e4"/>
<rect x="77.70" y="257.79" width="8.60" height="8.55" fill="#1880c2"/>
<rect x="86.00" y="257.79" width="8.60" height="8.55" fill="#0c77ba"/>
<rect x="94.30" y="257.79" width="8.60" height="8.55" fill="#00878f"/>
<rect x="102.60" y="257.79" width="8.60" height="8.55" fill="#0073b3"/>
<rect x="110.90" y="257.79" width="8.60" height="8.55" fill="#0079a6"/>
<rect x="119.20" y="257.79" width="8.60" height="8.55" fill="#00809c"/>
<rect x="127.50" y="257.79" width="8.60" height="8.55" fill="#00878f"/>
<rect x="135.80" y="257.79" width="16.90" height="8.55" fill="#008f86"/>
<rect x="152.40" y="257.79" width="16.90" height="8.55" fill="#00957e"/>
<rect x="169.00" y="257.79" width="8.60" height="8.55" fill="#008f86"/>
<rect x="177.30" y="257.79" width="16.90" height="8.55" fill="#00957e"/>
<rect x="193.90" y="257.79" width="41.80" height="8.55" fill="#009c74"/>
<rect x="235.40" y="257.79" width="25.20" height="8.55" fill="#008f86"/>
<rect x="260.30" y="257.79" width="16.90" height="8.55" fill="#00957e"/>
<rect x="276.90" y="257.79" width="50.10" height="8.55" fill="#009c74"/>
<rect x="326.70" y="257.79" width="8.60" height="8.55" fill="#1ca46c"/>
<rect x="36.20" y="266.05" width="8.60" height="8.55" fill="#2388c9"/>
<rect x="44.50" y="266.05" width="16.90" height="8.55" fill="#1880c2"/>
<rect x="61.10" y="266.05" width="16.90" height="8.55" fill="#2f93d3"/>
<rect x="77.70" y="266.05" width="8.60" height="8.55" fill="#1880c2"/>
<rect x="86.00" y="266.05" width="8.60" height="8.55" fill="#0c77ba"/>
<rect x="94.30" y="266.05" width="8.60" height="8.55" fill="#00878f"/>
<rect x="102.60" y="266.05" width="8.60" height="8.55" fill="#0c77ba"/>
<rect x="110.90" y="266.05" width="8.60" height="8.55" fill="#00809c"/>
<rect x="119.20" y="266.05" width="16.90" height="8.55" fill="#00878f"/>
<rect x="135.80" y="266.05" width="16.90" height="8.55" fill="#008f86"/>
<rect x="152.40" y="266.05" width="33.50" height="8.55" fill="#00957e"/>
<rect x="185.60" y="266.05" width="16.90" height="8.55" fill="#009c74"/>
<rect x="202.20" y="266.05" width="50.10" height="8.55" fill="#1ca46c"/>
<rect x="252.00" y="266.05" width="25.20" height="8.55" fill="#00957e"/>
<rect x="276.90" y="266.05" width="50.10" height="8.55" fill="#009c74"/>
<rect x="326.70" y="266.05" width="8.60" height="8.55" fill="#1ca46c"/>
<rect x="36.20" y="274.30" width="8.60" height="8.55" fill="#2388c9"/>
<rect x="44.50" y="274.30" width="16.90" height="8.55" fill="#1880c2"/>
<rect x="61.10" y="274.30" width="16.90" height="8.55" fill="#2388c9"/>
<rect x="77.70" y="274.30" width="8.60" height="8.55" fill="#1880c2"/>
<rect x="86.00" y="274.30" width="8.60" height="8.55" fill="#0c77ba"/>
<rect x="94.30" y="274.30" width="25.20" height="8.55" fill="#00809c"/>
<rect x="119.20" y="274.30" width="8.60" height="8.55" fill="#00878f"/>
<rect x="127.50" y="274.30" width="33.50" height="8.55" fill="#00957e"/>
<rect x="160.70" y="274.30" width="16.90" height="8.55" fill="#009c74"/>
<rect x="177.30" y="274.30" width="75.00" height="8.55" fill="#1ca46c"/>
<rect x="252.00" y="274.30" width="25.20" height="8.55" fill="#00957e"/>
<rect x="276.90" y="274.30" width="16.90" height="8.55" fill="#008f86"/>
<rect x="293.50" y="274.30" width="8.60" height="8.55" fill="#00957e"/>
<rect x="301.80" y="274.30" width="33.50" height="8.55" fill="#1ca46c"/>
<rect x="36.20" y="282.55" width="16.90" height="8.55" fill="#1880c2"/>
<rect x="52.80" y="282.55" width="25.20" height="8.55" fill="#2388c9"/>
<rect x="77.70" y="282.55" width="8.60" height="8.55" fill="#0c77ba"/>
<rect x="86.00" y="282.55" width="8.60" height="8.55" fill="#0073b3"/>
<rect x="94.30" y="282.55" width="16.90" height="8.55" fill="#00809c"/>
<rect x="110.90" y="282.55" width="8.60" height="8.55" fill="#00878f"/>
<rect x="119.20" y="282.55" width="8.60" height="8.55" fill="#008f86"/>
<rect x="127.50" y="282.55" width="16.90" height="8.55" fill="#00957e"/>
<rect x="144.10" y="282.55" width="16.90" height="8.55" fill="#009c74"/>
<rect x="160.70" y="282.55" width="91.60" height="8.55" fill="#1ca46c"/>
<rect x="252.00" y="282.55" width="8.60" height="8.55" fill="#009c74"/>
<rect x="260.30" y="282.55" width="16.90" height="8.55" fill="#00878f"/>
<rect x="276.90" y="282.55" width="8.60" height="8.55" fill="#008f86"/>
<rect x="285.20" y="282.55" width="16.90" height="8.55" fill="#00957e"/>
<rect x="301.80" y="282.55" width="16.90" height="8.55" fill="#1ca46c"/>
<rect x="318.40" y="282.55" width="16.90" height="8.55" fill="#36ac66"/>
</g>
<g clip-path="url(#cp0)" fill="none" stroke="#000" stroke-width="0.85" stroke-linejoin="round"><path transform="translate(0,0)" d="M93.6 28.7 L96.8 29.6 L98.4 31.2 L98.0 33.2 L100.0 34.0 L101.2 32.4 L102.8 31.2 L104.4 32.0 L103.6 34.0 L105.2 33.6 L106.0 34.8 L104.4 36.0 L106.8 38.0 L104.8 38.8 L102.4 40.0 L103.6 40.8 L104.4 42.4 L106.0 44.8 L107.6 45.6 L109.2 44.8 L110.4 44.0 L111.2 45.2 L113.6 46.0 L116.0 47.0 L118.8 45.6 L120.4 43.2 L120.6 41.2 L120.0 44.0 L118.0 46.4 L115.2 48.0 L112.0 49.6 L111.2 51.2 L112.4 53.2 L116.0 56.4 L120.0 60.0 L121.2 61.2 L122.3 60.8 L127.0 65.5 L132.0 68.9 L133.8 70.4 L135.0 70.7 L137.5 70.0 L139.1 68.9 L139.9 66.8 L139.3 65.0 L138.6 62.5 L140.5 60.0 L139.8 57.5 L141.0 55.5 L139.0 54.2 L136.1 52.7 L135.2 50.0 L134.0 46.4 L131.2 43.2 L127.2 39.2 L123.6 36.0 L122.0 33.6 L121.2 30.4 L122.4 28.8"/><path transform="translate(0,0)" d="M136.5 51.5 L138.5 54.0 L137.3 55.5 L139.5 57.5 L138.0 59.0 L140.3 60.5 L138.2 62.0 L140.6 63.8 L139.0 65.2 L140.8 66.2"/><path transform="translate(0,0)" d="M135.8 54.5 L137.6 57.0 L136.6 59.0 L138.7 61.2 L137.2 63.5 L139.2 64.5"/><path transform="translate(0,0)" d="M138.4 52.2 L140.2 54.8 L139.4 57.0 L141.3 59.2 L140.4 62.0 L141.6 64.2"/><path transform="translate(0,0)" d="M127.2 28.8 L129.6 33.2 L131.6 36.4 L133.6 38.4 L132.6 36.0 L131.6 34.0 L130.4 31.6 L131.0 29.6 L132.4 28.8"/><path transform="translate(0,0)" d="M140.4 29.2 L139.2 31.2 L136.4 33.6 L135.6 36.0 L136.8 38.8 L138.4 40.0 L139.2 38.0 L138.0 34.8 L139.4 35.8 L140.8 36.4 L144.4 36.4 L141.4 37.2 L140.4 40.0 L141.6 42.8 L143.2 44.0 L146.4 41.2 L148.4 39.2 L150.4 38.4 L148.4 40.8 L147.2 45.2 L148.8 48.0 L151.2 48.8 L153.2 46.8 L153.6 45.2 L152.4 48.4 L150.0 49.6 L146.8 49.6 L146.0 52.4 L146.8 56.0 L148.4 54.0 L150.4 55.6 L151.1 58.1"/><path transform="translate(0,0)" d="M134.4 28.8 L136.2 30.0 L138.4 29.2 L140.4 29.2"/><path transform="translate(0,0)" d="M151.1 58.1 L160.0 59.3 L180.0 65.3 L200.0 70.7 L246.7 82.0 L262.7 85.3 L280.0 89.0 L342.3 100.0"/><path transform="translate(0,0)" d="M151.1 58.1 L151.3 61.0 L151.7 64.1 L153.3 64.4 L154.7 65.3 L154.3 67.2 L153.5 68.9 L151.5 69.6 L149.9 70.7 L151.2 71.0 L152.3 71.8 L152.8 73.5 L152.9 75.4 L152.1 78.0 L151.7 80.2 L153.3 82.0 L154.7 83.8 L153.2 84.9 L151.7 85.6 L150.0 86.9 L148.7 88.0 L148.8 90.5 L149.3 92.8 L148.5 96.0 L148.1 98.8 L146.0 99.9 L143.9 100.6 L142.0 102.4 L140.3 104.1 L138.5 104.3 L136.7 104.1 L134.8 103.4 L133.2 102.3 L135.5 101.3 L137.9 100.6 L139.0 98.8 L139.7 97.0 L137.4 96.5 L135.0 96.4 L134.3 95.5 L134.4 94.6 L137.0 92.2 L139.7 89.8 L142.7 87.2 L145.7 84.4 L144.6 82.2 L143.9 80.2 L142.0 78.2 L140.3 76.6"/><path transform="translate(0,0)" d="M146.2 71.5 L148.0 70.8 L149.5 72.5 L148.2 74.5 L150.5 75.0 L149.0 77.0 L151.0 78.2 L149.4 80.0 L151.4 81.4 L149.8 83.0 L152.0 84.0 L150.0 85.4 L148.0 84.2 L149.3 82.0 L147.5 80.5 L148.8 78.5 L146.8 77.0 L148.2 75.0 L146.5 73.3 L146.2 71.5"/><path transform="translate(0,0)" d="M150.8 72.0 L152.0 74.0 L150.6 76.5 L152.3 79.0 L150.7 81.5 L152.6 83.5 L151.0 85.8 L149.0 87.6"/><path transform="translate(0,0)" d="M147.3 72.2 L149.8 76.2 L147.8 79.5 L150.3 83.0 L148.2 86.0"/><path transform="translate(0,0)" d="M145.7 79.0 L147.5 81.8 L146.0 84.0 L147.6 86.2 L145.5 88.2 L146.8 90.2 L144.6 92.0 L146.0 94.3 L143.6 95.8 L144.8 98.0 L142.4 99.3"/><path transform="translate(0,0)" d="M147.6 87.5 L145.5 90.8 L146.8 93.5 L144.0 96.2 L145.6 98.5 L142.0 100.3 L143.0 97.0 L140.6 99.2 L141.8 95.6 L139.2 96.2 L141.6 93.0 L143.6 90.2 L141.2 91.2 L143.8 87.8 L146.0 86.2"/><path transform="translate(0,0)" d="M138.6 102.9 L140.8 101.2 L139.0 100.2 L141.6 98.4 L140.2 97.4 L137.6 99.4 L136.2 101.6 L134.8 101.9 L136.6 103.2 L138.6 102.9"/><path transform="translate(0,0)" d="M136.0 95.2 L138.4 94.2 L140.6 92.0 L142.2 89.4 L140.5 90.4 L138.2 92.6 L136.0 95.2"/><path transform="translate(0,0)" d="M142.2 66.6 L143.2 65.2 L144.6 65.0 L145.0 66.6 L144.0 68.4 L142.8 68.6 L142.2 66.6"/><path transform="translate(0,0)" d="M146.3 65.2 L147.4 64.3 L148.6 64.9 L148.4 66.4 L147.2 66.9 L146.3 65.2"/><path transform="translate(0,0)" d="M145.2 68.6 L146.4 67.8 L147.0 69.0 L146.0 70.0 L145.2 68.6"/><path transform="translate(0,0)" d="M140.3 76.6 L136.0 74.4 L132.0 72.7 L127.0 70.5 L122.7 68.0 L120.0 65.9 L117.5 64.0 L115.3 62.7 L114.5 65.0 L113.3 69.3 L113.4 72.0 L114.0 74.7 L115.0 77.5 L115.3 80.0 L114.8 85.0 L114.7 90.7 L115.2 94.0 L115.3 98.0 L114.4 99.8 L113.3 101.3 L114.8 100.0 L116.0 99.3 L117.2 100.8 L118.7 102.0 L117.3 102.2 L116.0 102.7 L114.9 103.4 L114.0 104.0 L113.5 106.5 L113.3 109.3 L114.6 108.5 L116.0 108.0 L117.1 108.8 L118.0 109.3 L116.4 109.8 L115.0 110.5 L114.6 113.0 L114.7 116.0 L113.7 113.0 L112.7 109.3 L111.5 113.5 L110.7 117.3 L111.3 118.7"/><path transform="translate(0,0)" d="M111.3 118.7 L109.5 125.0 L108.0 132.0 L107.0 135.0 L108.3 134.5 L104.0 144.0 L100.0 153.3 L96.0 163.0 L92.0 173.3 L89.0 179.5 L90.5 180.0 L87.0 184.2 L84.0 188.0 L83.0 190.5 L85.5 188.5 L80.5 194.0 L76.0 198.7 L76.3 204.0 L75.0 208.0 L74.4 212.0 L74.6 217.0 L75.3 221.3 L73.3 226.7 L74.7 233.3 L72.5 239.0 L70.0 245.3 L68.7 250.0 L69.8 250.3 L64.8 254.0 L60.7 257.3 L60.2 260.0 L60.7 262.7 L63.0 267.0 L65.3 270.7 L66.5 274.5 L66.7 278.7 L65.0 283.5 L63.3 288.0 L63.3 296.3"/><path transform="translate(0,0)" d="M111.3 119.3 L113.0 121.0 L115.0 120.2 L117.3 120.7 L119.0 122.4 L120.5 121.8 L122.7 124.0 L125.5 125.6 L128.0 128.0 L129.3 130.5 L129.3 133.3 L128.5 136.5 L127.3 139.3 L130.8 142.2 L134.7 144.7 L139.0 144.3 L144.0 143.3 L148.0 144.4 L152.0 146.0 L156.0 148.7 L160.0 149.3 L165.3 148.0 L169.3 150.4 L176.0 149.5 L184.0 148.7 L190.0 149.6 L196.0 149.3 L213.3 153.3 L230.7 157.3"/><path transform="translate(0,0)" d="M246.7 82.0 L236.0 124.0 L231.3 148.0 L230.7 157.3"/><path transform="translate(0,0)" d="M230.7 157.3 L233.3 162.7 L237.3 168.0 L232.0 176.0 L226.7 184.0 L221.3 189.3 L216.7 196.0 L217.3 199.3 L221.3 203.3 L220.7 204.0 L216.7 212.0 L207.3 256.0"/><path transform="translate(0,0)" d="M262.7 85.3 L256.7 111.3 L258.5 115.0 L260.7 118.7 L260.5 122.5 L259.3 126.0 L262.4 129.2 L265.3 132.7 L268.4 138.8 L271.3 145.3 L274.7 148.0 L279.7 150.4 L277.4 155.4 L275.3 160.0 L273.3 166.7 L271.3 170.7 L270.4 176.7 L273.3 180.7 L277.5 177.8 L281.3 175.3 L283.3 178.7 L284.7 186.7 L287.3 193.3 L287.3 198.7 L291.3 200.7 L292.7 208.7 L295.3 212.0 L297.3 209.7 L300.5 210.2 L303.3 211.3 L306.0 209.7 L313.0 210.3 L320.0 211.3 L321.3 207.3 L324.0 207.3 L327.7 214.7"/><path transform="translate(0,0)" d="M342.3 203.6 L330.0 202.3 L318.0 277.3 L315.2 296.3"/><path transform="translate(0,0)" d="M75.3 221.3 L140.0 239.8 L152.0 243.3 L207.3 256.0 L262.0 267.6 L318.0 277.3"/><path transform="translate(0,0)" d="M152.0 243.3 L138.2 296.3"/><path transform="translate(0,0)" d="M262.0 267.6 L256.7 296.3"/><path transform="translate(0,0)" d="M282.7 296.3 L280.8 289.0 L280.0 284.7 L281.5 281.5 L284.0 280.0 L284.7 280.7 L285.3 286.0 L287.0 289.5 L289.3 292.0 L291.3 294.0 L291.6 296.3"/></g>
<rect x="28.70" y="28.70" width="313.60" height="267.60" fill="none" stroke="#000" stroke-width="0.8"/>
<g stroke="#000" stroke-width="0.8" fill="none"><path d="M32.20 296.30H338.40"/><path d="M32.20 296.30v6"/><path d="M75.40 296.30v6"/><path d="M118.50 296.30v6"/><path d="M162.50 296.30v6"/><path d="M206.20 296.30v6"/><path d="M250.00 296.30v6"/><path d="M294.20 296.30v6"/><path d="M338.40 296.30v6"/><path d="M28.70 36.40V292.80"/><path d="M28.70 36.40h-6"/><path d="M28.70 88.60h-6"/><path d="M28.70 140.30h-6"/><path d="M28.70 191.40h-6"/><path d="M28.70 242.20h-6"/><path d="M28.70 292.80h-6"/></g><g font-family="Liberation Sans, Arial, Helvetica, sans-serif" font-size="10" letter-spacing="0.2" fill="#000" text-anchor="middle"><text x="32.20" y="317.90">-122</text><text x="75.40" y="317.90">-120</text><text x="118.50" y="317.90">-118</text><text x="162.50" y="317.90">-116</text><text x="206.20" y="317.90">-114</text><text x="250.00" y="317.90">-112</text><text x="294.20" y="317.90">-110</text><text x="338.40" y="317.90">-108</text><text transform="translate(14.40,36.40) rotate(-90)">52</text><text transform="translate(14.40,88.60) rotate(-90)">50</text><text transform="translate(14.40,140.30) rotate(-90)">48</text><text transform="translate(14.40,191.40) rotate(-90)">46</text><text transform="translate(14.40,242.20) rotate(-90)">44</text><text transform="translate(14.40,292.80) rotate(-90)">42</text></g>
<defs><linearGradient id="g0_0" x1="0" y1="1" x2="0" y2="0"><stop offset="0.0082" stop-color="#e8e8e8"/><stop offset="0.0246" stop-color="#e0e0e0"/><stop offset="0.0410" stop-color="#d6d6d6"/><stop offset="0.0574" stop-color="#cccccc"/><stop offset="0.0738" stop-color="#c0c0c0"/><stop offset="0.0902" stop-color="#b4b4b4"/><stop offset="0.1066" stop-color="#a8a8a8"/><stop offset="0.1230" stop-color="#9c9c9c"/><stop offset="0.1393" stop-color="#8c9ca8"/><stop offset="0.1557" stop-color="#82a0b4"/><stop offset="0.1721" stop-color="#78a4c4"/><stop offset="0.1885" stop-color="#6ca8d0"/><stop offset="0.2049" stop-color="#62acde"/><stop offset="0.2213" stop-color="#58b2ee"/><stop offset="0.2377" stop-color="#4caae8"/><stop offset="0.2541" stop-color="#40a2e0"/><stop offset="0.2705" stop-color="#3498d8"/><stop offset="0.2869" stop-color="#2a8ece"/><stop offset="0.3033" stop-color="#1c83c4"/><stop offset="0.3197" stop-color="#0c77ba"/><stop offset="0.3361" stop-color="#0073b3"/><stop offset="0.3525" stop-color="#0079a6"/><stop offset="0.3689" stop-color="#00809c"/><stop offset="0.3852" stop-color="#00878f"/><stop offset="0.4016" stop-color="#008f86"/><stop offset="0.4180" stop-color="#00957e"/><stop offset="0.4344" stop-color="#009c74"/><stop offset="0.4508" stop-color="#1ca46c"/><stop offset="0.4672" stop-color="#36ac66"/><stop offset="0.4836" stop-color="#4eb462"/><stop offset="0.5000" stop-color="#80c456"/><stop offset="0.5164" stop-color="#a8d050"/><stop offset="0.5328" stop-color="#ccd848"/><stop offset="0.5492" stop-color="#f0e440"/><stop offset="0.5656" stop-color="#f0dc38"/><stop offset="0.5820" stop-color="#f0d030"/><stop offset="0.5984" stop-color="#eec828"/><stop offset="0.6148" stop-color="#ecc020"/><stop offset="0.6311" stop-color="#eab418"/><stop offset="0.6475" stop-color="#e8a808"/><stop offset="0.6639" stop-color="#e69c04"/><stop offset="0.6803" stop-color="#e49404"/><stop offset="0.6967" stop-color="#e28c04"/><stop offset="0.7131" stop-color="#e08404"/><stop offset="0.7295" stop-color="#de7804"/><stop offset="0.7459" stop-color="#dc6c04"/><stop offset="0.7623" stop-color="#da6404"/><stop offset="0.7787" stop-color="#d85c04"/><stop offset="0.7951" stop-color="#d46420"/><stop offset="0.8115" stop-color="#d4683c"/><stop offset="0.8279" stop-color="#cc7050"/><stop offset="0.8443" stop-color="#cc7468"/><stop offset="0.8607" stop-color="#cc7888"/><stop offset="0.8770" stop-color="#cc78a0"/><stop offset="0.8934" stop-color="#d06c98"/><stop offset="0.9098" stop-color="#d8587c"/><stop offset="0.9262" stop-color="#e04464"/><stop offset="0.9426" stop-color="#e83048"/><stop offset="0.9590" stop-color="#f02030"/><stop offset="0.9754" stop-color="#f81018"/><stop offset="0.9918" stop-color="#ff0000"/></linearGradient></defs><rect x="390.70" y="42.00" width="7.70" height="241.20" fill="url(#g0_0)"/><path d="M390.70 42.00V283.20H398.40V42.00" fill="none" stroke="#000" stroke-width="0.8"/><g stroke="#000" stroke-width="0.8"><path d="M398.40 281.30h6.2"/><path d="M398.40 261.54h6.2"/><path d="M398.40 241.78h6.2"/><path d="M398.40 222.03h6.2"/><path d="M398.40 202.27h6.2"/><path d="M398.40 182.51h6.2"/><path d="M398.40 162.75h6.2"/><path d="M398.40 142.99h6.2"/><path d="M398.40 123.23h6.2"/><path d="M398.40 103.47h6.2"/><path d="M398.40 83.72h6.2"/><path d="M398.40 63.96h6.2"/><path d="M398.40 44.20h6.2"/></g><g font-family="Liberation Sans, Arial, Helvetica, sans-serif" font-size="10" letter-spacing="0.4" fill="#000"><text x="410.00" y="285.20">0</text><text x="410.00" y="265.44">10</text><text x="410.00" y="245.68">20</text><text x="410.00" y="225.93">30</text><text x="410.00" y="206.17">40</text><text x="410.00" y="186.41">50</text><text x="410.00" y="166.65">60</text><text x="410.00" y="146.89">70</text><text x="410.00" y="127.13">80</text><text x="410.00" y="107.38">90</text><text x="410.00" y="87.62">100</text><text x="410.00" y="67.86">110</text><text x="410.00" y="48.10">120</text></g><text font-family="Liberation Sans, Arial, Helvetica, sans-serif" font-size="12" text-anchor="middle" x="394.50" y="39.50">ppbV</text>
<text font-family="Liberation Sans, Arial, Helvetica, sans-serif" font-size="12.08" font-weight="bold" text-anchor="middle" x="185.30" y="19.00">Model 1 (basecase): O3_8HRMAX on 04/09/2025</text>
<text font-family="Liberation Sans, Arial, Helvetica, sans-serif" font-size="12" letter-spacing="0.05" text-anchor="middle" x="185.00" y="336.00">Domain size: 31x36 | Max = 57 at (9, 31)</text><text font-family="Liberation Sans, Arial, Helvetica, sans-serif" font-size="12" letter-spacing="0.05" text-anchor="middle" x="185.30" y="348.00">Mean: 44 |  Median: 44</text>
<g shape-rendering="crispEdges">
<rect x="486.20" y="35.00" width="25.20" height="8.55" fill="#1880c2"/>
<rect x="511.10" y="35.00" width="16.90" height="8.55" fill="#2388c9"/>
<rect x="527.70" y="35.00" width="41.80" height="8.55" fill="#1880c2"/>
<rect x="569.20" y="35.00" width="33.50" height="8.55" fill="#0c77ba"/>
<rect x="602.40" y="35.00" width="8.60" height="8.55" fill="#00878f"/>
<rect x="610.70" y="35.00" width="8.60" height="8.55" fill="#0079a6"/>
<rect x="619.00" y="35.00" width="8.60" height="8.55" fill="#00809c"/>
<rect x="627.30" y="35.00" width="33.50" height="8.55" fill="#0079a6"/>
<rect x="660.50" y="35.00" width="8.60" height="8.55" fill="#0073b3"/>
<rect x="668.80" y="35.00" width="8.60" height="8.55" fill="#0079a6"/>
<rect x="677.10" y="35.00" width="8.60" height="8.55" fill="#0073b3"/>
<rect x="685.40" y="35.00" width="66.70" height="8.55" fill="#0079a6"/>
<rect x="751.80" y="35.00" width="8.60" height="8.55" fill="#0073b3"/>
<rect x="760.10" y="35.00" width="8.60" height="8.55" fill="#00809c"/>
<rect x="768.40" y="35.00" width="8.60" height="8.55" fill="#0079a6"/>
<rect x="776.70" y="35.00" width="8.60" height="8.55" fill="#00809c"/>
<rect x="486.20" y="43.25" width="33.50" height="8.55" fill="#1880c2"/>
<rect x="519.40" y="43.25" width="16.90" height="8.55" fill="#2388c9"/>
<rect x="536.00" y="43.25" width="16.90" height="8.55" fill="#1880c2"/>
<rect x="552.60" y="43.25" width="8.60" height="8.55" fill="#2388c9"/>
<rect x="560.90" y="43.25" width="16.90" height="8.55" fill="#1880c2"/>
<rect x="577.50" y="43.25" width="8.60" height="8.55" fill="#0c77ba"/>
<rect x="585.80" y="43.25" width="8.60" height="8.55" fill="#1880c2"/>
<rect x="594.10" y="43.25" width="8.60" height="8.55" fill="#0c77ba"/>
<rect x="602.40" y="43.25" width="25.20" height="8.55" fill="#0079a6"/>
<rect x="627.30" y="43.25" width="8.60" height="8.55" fill="#0073b3"/>
<rect x="635.60" y="43.25" width="91.60" height="8.55" fill="#0079a6"/>
<rect x="726.90" y="43.25" width="8.60" height="8.55" fill="#0073b3"/>
<rect x="735.20" y="43.25" width="41.80" height="8.55" fill="#0079a6"/>
<rect x="776.70" y="43.25" width="8.60" height="8.55" fill="#00809c"/>
<rect x="486.20" y="51.50" width="33.50" height="8.55" fill="#1880c2"/>
<rect x="519.40" y="51.50" width="16.90" height="8.55" fill="#2388c9"/>
<rect x="536.00" y="51.50" width="33.50" height="8.55" fill="#1880c2"/>
<rect x="569.20" y="51.50" width="8.60" height="8.55" fill="#0c77ba"/>
<rect x="577.50" y="51.50" width="8.60" height="8.55" fill="#0073b3"/>
<rect x="585.80" y="51.50" width="16.90" height="8.55" fill="#0c77ba"/>
<rect x="602.40" y="51.50" width="33.50" height="8.55" fill="#0073b3"/>
<rect x="635.60" y="51.50" width="8.60" height="8.55" fill="#0079a6"/>
<rect x="643.90" y="51.50" width="41.80" height="8.55" fill="#0073b3"/>
<rect x="685.40" y="51.50" width="83.30" height="8.55" fill="#0079a6"/>
<rect x="768.40" y="51.50" width="16.90" height="8.55" fill="#00809c"/>
<rect x="486.20" y="59.75" width="75.00" height="8.55" fill="#1880c2"/>
<rect x="560.90" y="59.75" width="16.90" height="8.55" fill="#0c77ba"/>
<rect x="577.50" y="59.75" width="8.60" height="8.55" fill="#0079a6"/>
<rect x="585.80" y="59.75" width="16.90" height="8.55" fill="#0c77ba"/>
<rect x="602.40" y="59.75" width="25.20" height="8.55" fill="#0073b3"/>
<rect x="627.30" y="59.75" width="8.60" height="8.55" fill="#0c77ba"/>
<rect x="635.60" y="59.75" width="58.40" height="8.55" fill="#0073b3"/>
<rect x="693.70" y="59.75" width="50.10" height="8.55" fill="#0079a6"/>
<rect x="743.50" y="59.75" width="8.60" height="8.55" fill="#00809c"/>
<rect x="751.80" y="59.75" width="25.20" height="8.55" fill="#0079a6"/>
<rect x="776.70" y="59.75" width="8.60" height="8.55" fill="#00809c"/>
<rect x="486.20" y="68.01" width="75.00" height="8.55" fill="#1880c2"/>
<rect x="560.90" y="68.01" width="8.60" height="8.55" fill="#2f93d3"/>
<rect x="569.20" y="68.01" width="8.60" height="8.55" fill="#0c77ba"/>
<rect x="577.50" y="68.01" width="8.60" height="8.55" fill="#0073b3"/>
<rect x="585.80" y="68.01" width="16.90" height="8.55" fill="#0c77ba"/>
<rect x="602.40" y="68.01" width="33.50" height="8.55" fill="#0073b3"/>
<rect x="635.60" y="68.01" width="16.90" height="8.55" fill="#0079a6"/>
<rect x="652.20" y="68.01" width="8.60" height="8.55" fill="#0c77ba"/>
<rect x="660.50" y="68.01" width="33.50" height="8.55" fill="#0073b3"/>
<rect x="693.70" y="68.01" width="91.60" height="8.55" fill="#0079a6"/>
<rect x="486.20" y="76.26" width="75.00" height="8.55" fill="#1880c2"/>
<rect x="560.90" y="76.26" width="8.60" height="8.55" fill="#0c77ba"/>
<rect x="569.20" y="76.26" width="16.90" height="8.55" fill="#0073b3"/>
<rect x="585.80" y="76.26" width="25.20" height="8.55" fill="#0079a6"/>
<rect x="610.70" y="76.26" width="16.90" height="8.55" fill="#0073b3"/>
<rect x="627.30" y="76.26" width="8.60" height="8.55" fill="#00809c"/>
<rect x="635.60" y="76.26" width="8.60" height="8.55" fill="#0079a6"/>
<rect x="643.90" y="76.26" width="50.10" height="8.55" fill="#0073b3"/>
<rect x="693.70" y="76.26" width="91.60" height="8.55" fill="#0079a6"/>
<rect x="486.20" y="84.51" width="75.00" height="8.55" fill="#1880c2"/>
<rect x="560.90" y="84.51" width="8.60" height="8.55" fill="#0c77ba"/>
<rect x="569.20" y="84.51" width="8.60" height="8.55" fill="#0073b3"/>
<rect x="577.50" y="84.51" width="8.60" height="8.55" fill="#0079a6"/>
<rect x="585.80" y="84.51" width="8.60" height="8.55" fill="#00809c"/>
<rect x="594.10" y="84.51" width="16.90" height="8.55" fill="#0079a6"/>
<rect x="610.70" y="84.51" width="16.90" height="8.55" fill="#0073b3"/>
<rect x="627.30" y="84.51" width="16.90" height="8.55" fill="#0079a6"/>
<rect x="643.90" y="84.51" width="58.40" height="8.55" fill="#0073b3"/>
<rect x="702.00" y="84.51" width="83.30" height="8.55" fill="#0079a6"/>
<rect x="486.20" y="92.76" width="66.70" height="8.55" fill="#1880c2"/>
<rect x="552.60" y="92.76" width="16.90" height="8.55" fill="#0c77ba"/>
<rect x="569.20" y="92.76" width="8.60" height="8.55" fill="#0073b3"/>
<rect x="577.50" y="92.76" width="8.60" height="8.55" fill="#0079a6"/>
<rect x="585.80" y="92.76" width="8.60" height="8.55" fill="#00809c"/>
<rect x="594.10" y="92.76" width="16.90" height="8.55" fill="#0079a6"/>
<rect x="610.70" y="92.76" width="66.70" height="8.55" fill="#0073b3"/>
<rect x="677.10" y="92.76" width="50.10" height="8.55" fill="#0079a6"/>
<rect x="726.90" y="92.76" width="8.60" height="8.55" fill="#00809c"/>
<rect x="735.20" y="92.76" width="8.60" height="8.55" fill="#0079a6"/>
<rect x="743.50" y="92.76" width="41.80" height="8.55" fill="#00809c"/>
<rect x="486.20" y="101.01" width="66.70" height="8.55" fill="#1880c2"/>
<rect x="552.60" y="101.01" width="8.60" height="8.55" fill="#0c77ba"/>
<rect x="560.90" y="101.01" width="8.60" height="8.55" fill="#0073b3"/>
<rect x="569.20" y="101.01" width="8.60" height="8.55" fill="#0079a6"/>
<rect x="577.50" y="101.01" width="8.60" height="8.55" fill="#00809c"/>
<rect x="585.80" y="101.01" width="16.90" height="8.55" fill="#0079a6"/>
<rect x="602.40" y="101.01" width="8.60" height="8.55" fill="#00878f"/>
<rect x="610.70" y="101.01" width="8.60" height="8.55" fill="#00809c"/>
<rect x="619.00" y="101.01" width="8.60" height="8.55" fill="#0079a6"/>
<rect x="627.30" y="101.01" width="8.60" height="8.55" fill="#00809c"/>
<rect x="635.60" y="101.01" width="25.20" height="8.55" fill="#0079a6"/>
<rect x="660.50" y="101.01" width="91.60" height="8.55" fill="#00809c"/>
<rect x="751.80" y="101.01" width="16.90" height="8.55" fill="#00878f"/>
<rect x="768.40" y="101.01" width="16.90" height="8.55" fill="#00809c"/>
<rect x="486.20" y="109.26" width="66.70" height="8.55" fill="#1880c2"/>
<rect x="552.60" y="109.26" width="16.90" height="8.55" fill="#0073b3"/>
<rect x="569.20" y="109.26" width="8.60" height="8.55" fill="#00809c"/>
<rect x="577.50" y="109.26" width="8.60" height="8.55" fill="#0079a6"/>
<rect x="585.80" y="109.26" width="8.60" height="8.55" fill="#00809c"/>
<rect x="594.10" y="109.26" width="8.60" height="8.55" fill="#0079a6"/>
<rect x="602.40" y="109.26" width="33.50" height="8.55" fill="#00809c"/>
<rect x="635.60" y="109.26" width="16.90" height="8.55" fill="#0079a6"/>
<rect x="652.20" y="109.26" width="8.60" height="8.55" fill="#00809c"/>
<rect x="660.50" y="109.26" width="41.80" height="8.55" fill="#00878f"/>
<rect x="702.00" y="109.26" width="50.10" height="8.55" fill="#00809c"/>
<rect x="751.80" y="109.26" width="25.20" height="8.55" fill="#00878f"/>
<rect x="776.70" y="109.26" width="8.60" height="8.55" fill="#00809c"/>
<rect x="486.20" y="117.52" width="66.70" height="8.55" fill="#1880c2"/>
<rect x="552.60" y="117.52" width="8.60" height="8.55" fill="#0c77ba"/>
<rect x="560.90" y="117.52" width="8.60" height="8.55" fill="#0073b3"/>
<rect x="569.20" y="117.52" width="8.60" height="8.55" fill="#00809c"/>
<rect x="577.50" y="117.52" width="8.60" height="8.55" fill="#0079a6"/>
<rect x="585.80" y="117.52" width="8.60" height="8.55" fill="#00809c"/>
<rect x="594.10" y="117.52" width="8.60" height="8.55" fill="#00878f"/>
<rect x="602.40" y="117.52" width="25.20" height="8.55" fill="#008f86"/>
<rect x="627.30" y="117.52" width="8.60" height="8.55" fill="#00878f"/>
<rect x="635.60" y="117.52" width="8.60" height="8.55" fill="#0079a6"/>
<rect x="643.90" y="117.52" width="33.50" height="8.55" fill="#00878f"/>
<rect x="677.10" y="117.52" width="8.60" height="8.55" fill="#00809c"/>
<rect x="685.40" y="117.52" width="8.60" height="8.55" fill="#0079a6"/>
<rect x="693.70" y="117.52" width="33.50" height="8.55" fill="#00878f"/>
<rect x="726.90" y="117.52" width="16.90" height="8.55" fill="#008f86"/>
<rect x="743.50" y="117.52" width="8.60" height="8.55" fill="#00878f"/>
<rect x="751.80" y="117.52" width="25.20" height="8.55" fill="#008f86"/>
<rect x="776.70" y="117.52" width="8.60" height="8.55" fill="#00878f"/>
<rect x="486.20" y="125.77" width="75.00" height="8.55" fill="#1880c2"/>
<rect x="560.90" y="125.77" width="8.60" height="8.55" fill="#0c77ba"/>
<rect x="569.20" y="125.77" width="8.60" height="8.55" fill="#0079a6"/>
<rect x="577.50" y="125.77" width="8.60" height="8.55" fill="#0073b3"/>
<rect x="585.80" y="125.77" width="16.90" height="8.55" fill="#00809c"/>
<rect x="602.40" y="125.77" width="8.60" height="8.55" fill="#00878f"/>
<rect x="610.70" y="125.77" width="16.90" height="8.55" fill="#008f86"/>
<rect x="627.30" y="125.77" width="50.10" height="8.55" fill="#00878f"/>
<rect x="677.10" y="125.77" width="8.60" height="8.55" fill="#00809c"/>
<rect x="685.40" y="125.77" width="8.60" height="8.55" fill="#0079a6"/>
<rect x="693.70" y="125.77" width="58.40" height="8.55" fill="#00878f"/>
<rect x="751.80" y="125.77" width="33.50" height="8.55" fill="#008f86"/>
<rect x="486.20" y="134.02" width="75.00" height="8.55" fill="#1880c2"/>
<rect x="560.90" y="134.02" width="25.20" height="8.55" fill="#0073b3"/>
<rect x="585.80" y="134.02" width="33.50" height="8.55" fill="#00809c"/>
<rect x="619.00" y="134.02" width="8.60" height="8.55" fill="#0079a6"/>
<rect x="627.30" y="134.02" width="25.20" height="8.55" fill="#00809c"/>
<rect x="652.20" y="134.02" width="16.90" height="8.55" fill="#00878f"/>
<rect x="668.80" y="134.02" width="16.90" height="8.55" fill="#00809c"/>
<rect x="685.40" y="134.02" width="8.60" height="8.55" fill="#0079a6"/>
<rect x="693.70" y="134.02" width="16.90" height="8.55" fill="#00878f"/>
<rect x="710.30" y="134.02" width="41.80" height="8.55" fill="#008f86"/>
<rect x="751.80" y="134.02" width="33.50" height="8.55" fill="#00957e"/>
<rect x="486.20" y="142.27" width="33.50" height="8.55" fill="#1880c2"/>
<rect x="519.40" y="142.27" width="25.20" height="8.55" fill="#2388c9"/>
<rect x="544.30" y="142.27" width="16.90" height="8.55" fill="#1880c2"/>
<rect x="560.90" y="142.27" width="25.20" height="8.55" fill="#0073b3"/>
<rect x="585.80" y="142.27" width="8.60" height="8.55" fill="#0079a6"/>
<rect x="594.10" y="142.27" width="16.90" height="8.55" fill="#0073b3"/>
<rect x="610.70" y="142.27" width="16.90" height="8.55" fill="#00809c"/>
<rect x="627.30" y="142.27" width="33.50" height="8.55" fill="#0079a6"/>
<rect x="660.50" y="142.27" width="25.20" height="8.55" fill="#00809c"/>
<rect x="685.40" y="142.27" width="25.20" height="8.55" fill="#00878f"/>
<rect x="710.30" y="142.27" width="25.20" height="8.55" fill="#008f86"/>
<rect x="735.20" y="142.27" width="8.60" height="8.55" fill="#00878f"/>
<rect x="743.50" y="142.27" width="8.60" height="8.55" fill="#008f86"/>
<rect x="751.80" y="142.27" width="33.50" height="8.55" fill="#00957e"/>
<rect x="486.20" y="150.52" width="8.60" height="8.55" fill="#1880c2"/>
<rect x="494.50" y="150.52" width="8.60" height="8.55" fill="#2388c9"/>
<rect x="502.80" y="150.52" width="16.90" height="8.55" fill="#1880c2"/>
<rect x="519.40" y="150.52" width="25.20" height="8.55" fill="#2388c9"/>
<rect x="544.30" y="150.52" width="16.90" height="8.55" fill="#1880c2"/>
<rect x="560.90" y="150.52" width="16.90" height="8.55" fill="#0c77ba"/>
<rect x="577.50" y="150.52" width="33.50" height="8.55" fill="#0073b3"/>
<rect x="610.70" y="150.52" width="8.60" height="8.55" fill="#0079a6"/>
<rect x="619.00" y="150.52" width="33.50" height="8.55" fill="#0073b3"/>
<rect x="652.20" y="150.52" width="8.60" height="8.55" fill="#0079a6"/>
<rect x="660.50" y="150.52" width="8.60" height="8.55" fill="#00809c"/>
<rect x="668.80" y="150.52" width="41.80" height="8.55" fill="#00878f"/>
<rect x="710.30" y="150.52" width="16.90" height="8.55" fill="#00809c"/>
<rect x="726.90" y="150.52" width="25.20" height="8.55" fill="#00878f"/>
<rect x="751.80" y="150.52" width="8.60" height="8.55" fill="#008f86"/>
<rect x="760.10" y="150.52" width="25.20" height="8.55" fill="#00957e"/>
<rect x="486.20" y="158.77" width="8.60" height="8.55" fill="#1880c2"/>
<rect x="494.50" y="158.77" width="8.60" height="8.55" fill="#2388c9"/>
<rect x="502.80" y="158.77" width="16.90" height="8.55" fill="#1880c2"/>
<rect x="519.40" y="158.77" width="41.80" height="8.55" fill="#2388c9"/>
<rect x="560.90" y="158.77" width="8.60" height="8.55" fill="#1880c2"/>
<rect x="569.20" y="158.77" width="8.60" height="8.55" fill="#0c77ba"/>
<rect x="577.50" y="158.77" width="25.20" height="8.55" fill="#00809c"/>
<rect x="602.40" y="158.77" width="8.60" height="8.55" fill="#0073b3"/>
<rect x="610.70" y="158.77" width="41.80" height="8.55" fill="#0079a6"/>
<rect x="652.20" y="158.77" width="16.90" height="8.55" fill="#00809c"/>
<rect x="668.80" y="158.77" width="41.80" height="8.55" fill="#00878f"/>
<rect x="710.30" y="158.77" width="16.90" height="8.55" fill="#00809c"/>
<rect x="726.90" y="158.77" width="16.90" height="8.55" fill="#008f86"/>
<rect x="743.50" y="158.77" width="41.80" height="8.55" fill="#00957e"/>
<rect x="486.20" y="167.03" width="16.90" height="8.55" fill="#2388c9"/>
<rect x="502.80" y="167.03" width="16.90" height="8.55" fill="#1880c2"/>
<rect x="519.40" y="167.03" width="8.60" height="8.55" fill="#2388c9"/>
<rect x="527.70" y="167.03" width="16.90" height="8.55" fill="#1880c2"/>
<rect x="544.30" y="167.03" width="8.60" height="8.55" fill="#2388c9"/>
<rect x="552.60" y="167.03" width="16.90" height="8.55" fill="#0c77ba"/>
<rect x="569.20" y="167.03" width="8.60" height="8.55" fill="#1880c2"/>
<rect x="577.50" y="167.03" width="8.60" height="8.55" fill="#0079a6"/>
<rect x="585.80" y="167.03" width="25.20" height="8.55" fill="#00878f"/>
<rect x="610.70" y="167.03" width="8.60" height="8.55" fill="#0079a6"/>
<rect x="619.00" y="167.03" width="25.20" height="8.55" fill="#00809c"/>
<rect x="643.90" y="167.03" width="8.60" height="8.55" fill="#00878f"/>
<rect x="652.20" y="167.03" width="25.20" height="8.55" fill="#008f86"/>
<rect x="677.10" y="167.03" width="25.20" height="8.55" fill="#00878f"/>
<rect x="702.00" y="167.03" width="16.90" height="8.55" fill="#00809c"/>
<rect x="718.60" y="167.03" width="8.60" height="8.55" fill="#00878f"/>
<rect x="726.90" y="167.03" width="8.60" height="8.55" fill="#008f86"/>
<rect x="735.20" y="167.03" width="16.90" height="8.55" fill="#00957e"/>
<rect x="751.80" y="167.03" width="8.60" height="8.55" fill="#009c74"/>
<rect x="760.10" y="167.03" width="25.20" height="8.55" fill="#00957e"/>
<rect x="486.20" y="175.28" width="16.90" height="8.55" fill="#2388c9"/>
<rect x="502.80" y="175.28" width="16.90" height="8.55" fill="#1880c2"/>
<rect x="519.40" y="175.28" width="8.60" height="8.55" fill="#2388c9"/>
<rect x="527.70" y="175.28" width="8.60" height="8.55" fill="#0c77ba"/>
<rect x="536.00" y="175.28" width="8.60" height="8.55" fill="#1880c2"/>
<rect x="544.30" y="175.28" width="8.60" height="8.55" fill="#2388c9"/>
<rect x="552.60" y="175.28" width="8.60" height="8.55" fill="#0c77ba"/>
<rect x="560.90" y="175.28" width="8.60" height="8.55" fill="#0073b3"/>
<rect x="569.20" y="175.28" width="8.60" height="8.55" fill="#1880c2"/>
<rect x="577.50" y="175.28" width="8.60" height="8.55" fill="#0073b3"/>
<rect x="585.80" y="175.28" width="16.90" height="8.55" fill="#00878f"/>
<rect x="602.40" y="175.28" width="16.90" height="8.55" fill="#00809c"/>
<rect x="619.00" y="175.28" width="16.90" height="8.55" fill="#0079a6"/>
<rect x="635.60" y="175.28" width="8.60" height="8.55" fill="#00809c"/>
<rect x="643.90" y="175.28" width="8.60" height="8.55" fill="#008f86"/>
<rect x="652.20" y="175.28" width="8.60" height="8.55" fill="#00878f"/>
<rect x="660.50" y="175.28" width="16.90" height="8.55" fill="#008f86"/>
<rect x="677.10" y="175.28" width="41.80" height="8.55" fill="#00809c"/>
<rect x="718.60" y="175.28" width="25.20" height="8.55" fill="#00878f"/>
<rect x="743.50" y="175.28" width="41.80" height="8.55" fill="#009c74"/>
<rect x="486.20" y="183.53" width="16.90" height="8.55" fill="#2388c9"/>
<rect x="502.80" y="183.53" width="8.60" height="8.55" fill="#1880c2"/>
<rect x="511.10" y="183.53" width="8.60" height="8.55" fill="#2388c9"/>
<rect x="519.40" y="183.53" width="8.60" height="8.55" fill="#1880c2"/>
<rect x="527.70" y="183.53" width="8.60" height="8.55" fill="#0c77ba"/>
<rect x="536.00" y="183.53" width="33.50" height="8.55" fill="#2388c9"/>
<rect x="569.20" y="183.53" width="8.60" height="8.55" fill="#0c77ba"/>
<rect x="577.50" y="183.53" width="8.60" height="8.55" fill="#0079a6"/>
<rect x="585.80" y="183.53" width="8.60" height="8.55" fill="#00878f"/>
<rect x="594.10" y="183.53" width="8.60" height="8.55" fill="#0079a6"/>
<rect x="602.40" y="183.53" width="25.20" height="8.55" fill="#00809c"/>
<rect x="627.30" y="183.53" width="16.90" height="8.55" fill="#00878f"/>
<rect x="643.90" y="183.53" width="8.60" height="8.55" fill="#008f86"/>
<rect x="652.20" y="183.53" width="25.20" height="8.55" fill="#00878f"/>
<rect x="677.10" y="183.53" width="8.60" height="8.55" fill="#00809c"/>
<rect x="685.40" y="183.53" width="8.60" height="8.55" fill="#0073b3"/>
<rect x="693.70" y="183.53" width="8.60" height="8.55" fill="#00809c"/>
<rect x="702.00" y="183.53" width="25.20" height="8.55" fill="#008f86"/>
<rect x="726.90" y="183.53" width="8.60" height="8.55" fill="#00957e"/>
<rect x="735.20" y="183.53" width="8.60" height="8.55" fill="#008f86"/>
<rect x="743.50" y="183.53" width="16.90" height="8.55" fill="#009c74"/>
<rect x="760.10" y="183.53" width="16.90" height="8.55" fill="#1ca46c"/>
<rect x="776.70" y="183.53" width="8.60" height="8.55" fill="#009c74"/>
<rect x="486.20" y="191.78" width="41.80" height="8.55" fill="#2388c9"/>
<rect x="527.70" y="191.78" width="16.90" height="8.55" fill="#2f93d3"/>
<rect x="544.30" y="191.78" width="8.60" height="8.55" fill="#1880c2"/>
<rect x="552.60" y="191.78" width="8.60" height="8.55" fill="#2388c9"/>
<rect x="560.90" y="191.78" width="8.60" height="8.55" fill="#1880c2"/>
<rect x="569.20" y="191.78" width="8.60" height="8.55" fill="#0073b3"/>
<rect x="577.50" y="191.78" width="50.10" height="8.55" fill="#0079a6"/>
<rect x="627.30" y="191.78" width="25.20" height="8.55" fill="#00809c"/>
<rect x="652.20" y="191.78" width="16.90" height="8.55" fill="#00878f"/>
<rect x="668.80" y="191.78" width="25.20" height="8.55" fill="#00809c"/>
<rect x="693.70" y="191.78" width="8.60" height="8.55" fill="#00878f"/>
<rect x="702.00" y="191.78" width="8.60" height="8.55" fill="#008f86"/>
<rect x="710.30" y="191.78" width="16.90" height="8.55" fill="#00957e"/>
<rect x="726.90" y="191.78" width="58.40" height="8.55" fill="#1ca46c"/>
<rect x="486.20" y="200.03" width="41.80" height="8.55" fill="#2388c9"/>
<rect x="527.70" y="200.03" width="16.90" height="8.55" fill="#2f93d3"/>
<rect x="544.30" y="200.03" width="16.90" height="8.55" fill="#1880c2"/>
<rect x="560.90" y="200.03" width="8.60" height="8.55" fill="#0073b3"/>
<rect x="569.20" y="200.03" width="8.60" height="8.55" fill="#0079a6"/>
<rect x="577.50" y="200.03" width="8.60" height="8.55" fill="#0073b3"/>
<rect x="585.80" y="200.03" width="25.20" height="8.55" fill="#0079a6"/>
<rect x="610.70" y="200.03" width="8.60" height="8.55" fill="#00809c"/>
<rect x="619.00" y="200.03" width="16.90" height="8.55" fill="#0079a6"/>
<rect x="635.60" y="200.03" width="8.60" height="8.55" fill="#00809c"/>
<rect x="643.90" y="200.03" width="16.90" height="8.55" fill="#0073b3"/>
<rect x="660.50" y="200.03" width="8.60" height="8.55" fill="#0079a6"/>
<rect x="668.80" y="200.03" width="8.60" height="8.55" fill="#0073b3"/>
<rect x="677.10" y="200.03" width="8.60" height="8.55" fill="#00809c"/>
<rect x="685.40" y="200.03" width="8.60" height="8.55" fill="#00878f"/>
<rect x="693.70" y="200.03" width="25.20" height="8.55" fill="#00957e"/>
<rect x="718.60" y="200.03" width="66.70" height="8.55" fill="#1ca46c"/>
<rect x="486.20" y="208.28" width="33.50" height="8.55" fill="#2388c9"/>
<rect x="519.40" y="208.28" width="8.60" height="8.55" fill="#1880c2"/>
<rect x="527.70" y="208.28" width="8.60" height="8.55" fill="#2f93d3"/>
<rect x="536.00" y="208.28" width="8.60" height="8.55" fill="#2388c9"/>
<rect x="544.30" y="208.28" width="16.90" height="8.55" fill="#1880c2"/>
<rect x="560.90" y="208.28" width="50.10" height="8.55" fill="#0079a6"/>
<rect x="610.70" y="208.28" width="8.60" height="8.55" fill="#00809c"/>
<rect x="619.00" y="208.28" width="16.90" height="8.55" fill="#0079a6"/>
<rect x="635.60" y="208.28" width="8.60" height="8.55" fill="#00809c"/>
<rect x="643.90" y="208.28" width="8.60" height="8.55" fill="#0073b3"/>
<rect x="652.20" y="208.28" width="8.60" height="8.55" fill="#0079a6"/>
<rect x="660.50" y="208.28" width="16.90" height="8.55" fill="#0073b3"/>
<rect x="677.10" y="208.28" width="8.60" height="8.55" fill="#00809c"/>
<rect x="685.40" y="208.28" width="16.90" height="8.55" fill="#00878f"/>
<rect x="702.00" y="208.28" width="16.90" height="8.55" fill="#00957e"/>
<rect x="718.60" y="208.28" width="8.60" height="8.55" fill="#1ca46c"/>
<rect x="726.90" y="208.28" width="25.20" height="8.55" fill="#42b064"/>
<rect x="751.80" y="208.28" width="33.50" height="8.55" fill="#1ca46c"/>
<rect x="486.20" y="216.54" width="33.50" height="8.55" fill="#2388c9"/>
<rect x="519.40" y="216.54" width="8.60" height="8.55" fill="#0c77ba"/>
<rect x="527.70" y="216.54" width="16.90" height="8.55" fill="#2f93d3"/>
<rect x="544.30" y="216.54" width="16.90" height="8.55" fill="#0c77ba"/>
<rect x="560.90" y="216.54" width="8.60" height="8.55" fill="#0073b3"/>
<rect x="569.20" y="216.54" width="25.20" height="8.55" fill="#0079a6"/>
<rect x="594.10" y="216.54" width="33.50" height="8.55" fill="#00809c"/>
<rect x="627.30" y="216.54" width="8.60" height="8.55" fill="#0079a6"/>
<rect x="635.60" y="216.54" width="41.80" height="8.55" fill="#00809c"/>
<rect x="677.10" y="216.54" width="8.60" height="8.55" fill="#00878f"/>
<rect x="685.40" y="216.54" width="16.90" height="8.55" fill="#008f86"/>
<rect x="702.00" y="216.54" width="25.20" height="8.55" fill="#1ca46c"/>
<rect x="726.90" y="216.54" width="25.20" height="8.55" fill="#42b064"/>
<rect x="751.80" y="216.54" width="8.60" height="8.55" fill="#1ca46c"/>
<rect x="760.10" y="216.54" width="25.20" height="8.55" fill="#009c74"/>
<rect x="486.20" y="224.79" width="8.60" height="8.55" fill="#2388c9"/>
<rect x="494.50" y="224.79" width="16.90" height="8.55" fill="#2f93d3"/>
<rect x="511.10" y="224.79" width="8.60" height="8.55" fill="#2388c9"/>
<rect x="519.40" y="224.79" width="8.60" height="8.55" fill="#1880c2"/>
<rect x="527.70" y="224.79" width="8.60" height="8.55" fill="#3a9ddc"/>
<rect x="536.00" y="224.79" width="8.60" height="8.55" fill="#2f93d3"/>
<rect x="544.30" y="224.79" width="8.60" height="8.55" fill="#1880c2"/>
<rect x="552.60" y="224.79" width="8.60" height="8.55" fill="#0c77ba"/>
<rect x="560.90" y="224.79" width="33.50" height="8.55" fill="#0079a6"/>
<rect x="594.10" y="224.79" width="16.90" height="8.55" fill="#00809c"/>
<rect x="610.70" y="224.79" width="25.20" height="8.55" fill="#00878f"/>
<rect x="635.60" y="224.79" width="8.60" height="8.55" fill="#00809c"/>
<rect x="643.90" y="224.79" width="8.60" height="8.55" fill="#0079a6"/>
<rect x="652.20" y="224.79" width="8.60" height="8.55" fill="#00809c"/>
<rect x="660.50" y="224.79" width="25.20" height="8.55" fill="#00878f"/>
<rect x="685.40" y="224.79" width="25.20" height="8.55" fill="#00957e"/>
<rect x="710.30" y="224.79" width="50.10" height="8.55" fill="#1ca46c"/>
<rect x="760.10" y="224.79" width="25.20" height="8.55" fill="#009c74"/>
<rect x="486.20" y="233.04" width="8.60" height="8.55" fill="#2f93d3"/>
<rect x="494.50" y="233.04" width="25.20" height="8.55" fill="#2388c9"/>
<rect x="519.40" y="233.04" width="8.60" height="8.55" fill="#1880c2"/>
<rect x="527.70" y="233.04" width="8.60" height="8.55" fill="#3a9ddc"/>
<rect x="536.00" y="233.04" width="8.60" height="8.55" fill="#2f93d3"/>
<rect x="544.30" y="233.04" width="8.60" height="8.55" fill="#1880c2"/>
<rect x="552.60" y="233.04" width="8.60" height="8.55" fill="#0c77ba"/>
<rect x="560.90" y="233.04" width="41.80" height="8.55" fill="#00809c"/>
<rect x="602.40" y="233.04" width="33.50" height="8.55" fill="#00878f"/>
<rect x="635.60" y="233.04" width="16.90" height="8.55" fill="#00809c"/>
<rect x="652.20" y="233.04" width="8.60" height="8.55" fill="#00878f"/>
<rect x="660.50" y="233.04" width="8.60" height="8.55" fill="#008f86"/>
<rect x="668.80" y="233.04" width="8.60" height="8.55" fill="#00878f"/>
<rect x="677.10" y="233.04" width="8.60" height="8.55" fill="#0079a6"/>
<rect x="685.40" y="233.04" width="8.60" height="8.55" fill="#00878f"/>
<rect x="693.70" y="233.04" width="16.90" height="8.55" fill="#008f86"/>
<rect x="710.30" y="233.04" width="8.60" height="8.55" fill="#00957e"/>
<rect x="718.60" y="233.04" width="66.70" height="8.55" fill="#009c74"/>
<rect x="486.20" y="241.29" width="8.60" height="8.55" fill="#2f93d3"/>
<rect x="494.50" y="241.29" width="25.20" height="8.55" fill="#2388c9"/>
<rect x="519.40" y="241.29" width="8.60" height="8.55" fill="#2f93d3"/>
<rect x="527.70" y="241.29" width="8.60" height="8.55" fill="#3a9ddc"/>
<rect x="536.00" y="241.29" width="8.60" height="8.55" fill="#1880c2"/>
<rect x="544.30" y="241.29" width="8.60" height="8.55" fill="#0073b3"/>
<rect x="552.60" y="241.29" width="8.60" height="8.55" fill="#00809c"/>
<rect x="560.90" y="241.29" width="16.90" height="8.55" fill="#0079a6"/>
<rect x="577.50" y="241.29" width="16.90" height="8.55" fill="#00809c"/>
<rect x="594.10" y="241.29" width="41.80" height="8.55" fill="#008f86"/>
<rect x="635.60" y="241.29" width="25.20" height="8.55" fill="#00957e"/>
<rect x="660.50" y="241.29" width="25.20" height="8.55" fill="#008f86"/>
<rect x="685.40" y="241.29" width="16.90" height="8.55" fill="#00878f"/>
<rect x="702.00" y="241.29" width="8.60" height="8.55" fill="#008f86"/>
<rect x="710.30" y="241.29" width="25.20" height="8.55" fill="#00957e"/>
<rect x="735.20" y="241.29" width="8.60" height="8.55" fill="#008f86"/>
<rect x="743.50" y="241.29" width="8.60" height="8.55" fill="#00957e"/>
<rect x="751.80" y="241.29" width="8.60" height="8.55" fill="#008f86"/>
<rect x="760.10" y="241.29" width="8.60" height="8.55" fill="#00957e"/>
<rect x="768.40" y="241.29" width="16.90" height="8.55" fill="#009c74"/>
<rect x="486.20" y="249.54" width="8.60" height="8.55" fill="#2f93d3"/>
<rect x="494.50" y="249.54" width="16.90" height="8.55" fill="#1880c2"/>
<rect x="511.10" y="249.54" width="8.60" height="8.55" fill="#0c77ba"/>
<rect x="519.40" y="249.54" width="8.60" height="8.55" fill="#2f93d3"/>
<rect x="527.70" y="249.54" width="8.60" height="8.55" fill="#2388c9"/>
<rect x="536.00" y="249.54" width="8.60" height="8.55" fill="#0c77ba"/>
<rect x="544.30" y="249.54" width="8.60" height="8.55" fill="#00878f"/>
<rect x="552.60" y="249.54" width="8.60" height="8.55" fill="#0073b3"/>
<rect x="560.90" y="249.54" width="8.60" height="8.55" fill="#0079a6"/>
<rect x="569.20" y="249.54" width="8.60" height="8.55" fill="#00809c"/>
<rect x="577.50" y="249.54" width="33.50" height="8.55" fill="#00878f"/>
<rect x="610.70" y="249.54" width="50.10" height="8.55" fill="#00957e"/>
<rect x="660.50" y="249.54" width="8.60" height="8.55" fill="#008f86"/>
<rect x="668.80" y="249.54" width="16.90" height="8.55" fill="#00957e"/>
<rect x="685.40" y="249.54" width="41.80" height="8.55" fill="#008f86"/>
<rect x="726.90" y="249.54" width="50.10" height="8.55" fill="#009c74"/>
<rect x="776.70" y="249.54" width="8.60" height="8.55" fill="#1ca46c"/>
<rect x="486.20" y="257.79" width="8.60" height="8.55" fill="#2388c9"/>
<rect x="494.50" y="257.79" width="16.90" height="8.55" fill="#1880c2"/>
<rect x="511.10" y="257.79" width="8.60" height="8.55" fill="#2f93d3"/>
<rect x="519.40" y="257.79" width="8.60" height="8.55" fill="#46a6e4"/>
<rect x="527.70" y="257.79" width="8.60" height="8.55" fill="#1880c2"/>
<rect x="536.00" y="257.79" width="8.60" height="8.55" fill="#0c77ba"/>
<rect x="544.30" y="257.79" width="8.60" height="8.55" fill="#00878f"/>
<rect x="552.60" y="257.79" width="8.60" height="8.55" fill="#0073b3"/>
<rect x="560.90" y="257.79" width="8.60" height="8.55" fill="#0079a6"/>
<rect x="569.20" y="257.79" width="8.60" height="8.55" fill="#00809c"/>
<rect x="577.50" y="257.79" width="8.60" height="8.55" fill="#00878f"/>
<rect x="585.80" y="257.79" width="16.90" height="8.55" fill="#008f86"/>
<rect x="602.40" y="257.79" width="16.90" height="8.55" fill="#00957e"/>
<rect x="619.00" y="257.79" width="8.60" height="8.55" fill="#008f86"/>
<rect x="627.30" y="257.79" width="16.90" height="8.55" fill="#00957e"/>
<rect x="643.90" y="257.79" width="41.80" height="8.55" fill="#009c74"/>
<rect x="685.40" y="257.79" width="25.20" height="8.55" fill="#008f86"/>
<rect x="710.30" y="257.79" width="16.90" height="8.55" fill="#00957e"/>
<rect x="726.90" y="257.79" width="50.10" height="8.55" fill="#009c74"/>
<rect x="776.70" y="257.79" width="8.60" height="8.55" fill="#1ca46c"/>
<rect x="486.20" y="266.05" width="8.60" height="8.55" fill="#2388c9"/>
<rect x="494.50" y="266.05" width="16.90" height="8.55" fill="#1880c2"/>
<rect x="511.10" y="266.05" width="16.90" height="8.55" fill="#2f93d3"/>
<rect x="527.70" y="266.05" width="8.60" height="8.55" fill="#1880c2"/>
<rect x="536.00" y="266.05" width="8.60" height="8.55" fill="#0c77ba"/>
<rect x="544.30" y="266.05" width="8.60" height="8.55" fill="#00878f"/>
<rect x="552.60" y="266.05" width="8.60" height="8.55" fill="#0c77ba"/>
<rect x="560.90" y="266.05" width="8.60" height="8.55" fill="#00809c"/>
<rect x="569.20" y="266.05" width="16.90" height="8.55" fill="#00878f"/>
<rect x="585.80" y="266.05" width="16.90" height="8.55" fill="#008f86"/>
<rect x="602.40" y="266.05" width="33.50" height="8.55" fill="#00957e"/>
<rect x="635.60" y="266.05" width="16.90" height="8.55" fill="#009c74"/>
<rect x="652.20" y="266.05" width="50.10" height="8.55" fill="#1ca46c"/>
<rect x="702.00" y="266.05" width="25.20" height="8.55" fill="#00957e"/>
<rect x="726.90" y="266.05" width="50.10" height="8.55" fill="#009c74"/>
<rect x="776.70" y="266.05" width="8.60" height="8.55" fill="#1ca46c"/>
<rect x="486.20" y="274.30" width="8.60" height="8.55" fill="#2388c9"/>
<rect x="494.50" y="274.30" width="16.90" height="8.55" fill="#1880c2"/>
<rect x="511.10" y="274.30" width="16.90" height="8.55" fill="#2388c9"/>
<rect x="527.70" y="274.30" width="8.60" height="8.55" fill="#1880c2"/>
<rect x="536.00" y="274.30" width="8.60" height="8.55" fill="#0c77ba"/>
<rect x="544.30" y="274.30" width="25.20" height="8.55" fill="#00809c"/>
<rect x="569.20" y="274.30" width="8.60" height="8.55" fill="#00878f"/>
<rect x="577.50" y="274.30" width="33.50" height="8.55" fill="#00957e"/>
<rect x="610.70" y="274.30" width="16.90" height="8.55" fill="#009c74"/>
<rect x="627.30" y="274.30" width="75.00" height="8.55" fill="#1ca46c"/>
<rect x="702.00" y="274.30" width="25.20" height="8.55" fill="#00957e"/>
<rect x="726.90" y="274.30" width="16.90" height="8.55" fill="#008f86"/>
<rect x="743.50" y="274.30" width="8.60" height="8.55" fill="#00957e"/>
<rect x="751.80" y="274.30" width="33.50" height="8.55" fill="#1ca46c"/>
<rect x="486.20" y="282.55" width="16.90" height="8.55" fill="#1880c2"/>
<rect x="502.80" y="282.55" width="25.20" height="8.55" fill="#2388c9"/>
<rect x="527.70" y="282.55" width="8.60" height="8.55" fill="#0c77ba"/>
<rect x="536.00" y="282.55" width="8.60" height="8.55" fill="#0073b3"/>
<rect x="544.30" y="282.55" width="16.90" height="8.55" fill="#00809c"/>
<rect x="560.90" y="282.55" width="8.60" height="8.55" fill="#00878f"/>
<rect x="569.20" y="282.55" width="8.60" height="8.55" fill="#008f86"/>
<rect x="577.50" y="282.55" width="16.90" height="8.55" fill="#00957e"/>
<rect x="594.10" y="282.55" width="16.90" height="8.55" fill="#009c74"/>
<rect x="610.70" y="282.55" width="91.60" height="8.55" fill="#1ca46c"/>
<rect x="702.00" y="282.55" width="8.60" height="8.55" fill="#009c74"/>
<rect x="710.30" y="282.55" width="16.90" height="8.55" fill="#00878f"/>
<rect x="726.90" y="282.55" width="8.60" height="8.55" fill="#008f86"/>
<rect x="735.20" y="282.55" width="16.90" height="8.55" fill="#00957e"/>
<rect x="751.80" y="282.55" width="16.90" height="8.55" fill="#1ca46c"/>
<rect x="768.40" y="282.55" width="16.90" height="8.55" fill="#36ac66"/>
</g>
<g clip-path="url(#cp1)" fill="none" stroke="#000" stroke-width="0.85" stroke-linejoin="round"><path transform="translate(450,0)" d="M93.6 28.7 L96.8 29.6 L98.4 31.2 L98.0 33.2 L100.0 34.0 L101.2 32.4 L102.8 31.2 L104.4 32.0 L103.6 34.0 L105.2 33.6 L106.0 34.8 L104.4 36.0 L106.8 38.0 L104.8 38.8 L102.4 40.0 L103.6 40.8 L104.4 42.4 L106.0 44.8 L107.6 45.6 L109.2 44.8 L110.4 44.0 L111.2 45.2 L113.6 46.0 L116.0 47.0 L118.8 45.6 L120.4 43.2 L120.6 41.2 L120.0 44.0 L118.0 46.4 L115.2 48.0 L112.0 49.6 L111.2 51.2 L112.4 53.2 L116.0 56.4 L120.0 60.0 L121.2 61.2 L122.3 60.8 L127.0 65.5 L132.0 68.9 L133.8 70.4 L135.0 70.7 L137.5 70.0 L139.1 68.9 L139.9 66.8 L139.3 65.0 L138.6 62.5 L140.5 60.0 L139.8 57.5 L141.0 55.5 L139.0 54.2 L136.1 52.7 L135.2 50.0 L134.0 46.4 L131.2 43.2 L127.2 39.2 L123.6 36.0 L122.0 33.6 L121.2 30.4 L122.4 28.8"/><path transform="translate(450,0)" d="M136.5 51.5 L138.5 54.0 L137.3 55.5 L139.5 57.5 L138.0 59.0 L140.3 60.5 L138.2 62.0 L140.6 63.8 L139.0 65.2 L140.8 66.2"/><path transform="translate(450,0)" d="M135.8 54.5 L137.6 57.0 L136.6 59.0 L138.7 61.2 L137.2 63.5 L139.2 64.5"/><path transform="translate(450,0)" d="M138.4 52.2 L140.2 54.8 L139.4 57.0 L141.3 59.2 L140.4 62.0 L141.6 64.2"/><path transform="translate(450,0)" d="M127.2 28.8 L129.6 33.2 L131.6 36.4 L133.6 38.4 L132.6 36.0 L131.6 34.0 L130.4 31.6 L131.0 29.6 L132.4 28.8"/><path transform="translate(450,0)" d="M140.4 29.2 L139.2 31.2 L136.4 33.6 L135.6 36.0 L136.8 38.8 L138.4 40.0 L139.2 38.0 L138.0 34.8 L139.4 35.8 L140.8 36.4 L144.4 36.4 L141.4 37.2 L140.4 40.0 L141.6 42.8 L143.2 44.0 L146.4 41.2 L148.4 39.2 L150.4 38.4 L148.4 40.8 L147.2 45.2 L148.8 48.0 L151.2 48.8 L153.2 46.8 L153.6 45.2 L152.4 48.4 L150.0 49.6 L146.8 49.6 L146.0 52.4 L146.8 56.0 L148.4 54.0 L150.4 55.6 L151.1 58.1"/><path transform="translate(450,0)" d="M134.4 28.8 L136.2 30.0 L138.4 29.2 L140.4 29.2"/><path transform="translate(450,0)" d="M151.1 58.1 L160.0 59.3 L180.0 65.3 L200.0 70.7 L246.7 82.0 L262.7 85.3 L280.0 89.0 L342.3 100.0"/><path transform="translate(450,0)" d="M151.1 58.1 L151.3 61.0 L151.7 64.1 L153.3 64.4 L154.7 65.3 L154.3 67.2 L153.5 68.9 L151.5 69.6 L149.9 70.7 L151.2 71.0 L152.3 71.8 L152.8 73.5 L152.9 75.4 L152.1 78.0 L151.7 80.2 L153.3 82.0 L154.7 83.8 L153.2 84.9 L151.7 85.6 L150.0 86.9 L148.7 88.0 L148.8 90.5 L149.3 92.8 L148.5 96.0 L148.1 98.8 L146.0 99.9 L143.9 100.6 L142.0 102.4 L140.3 104.1 L138.5 104.3 L136.7 104.1 L134.8 103.4 L133.2 102.3 L135.5 101.3 L137.9 100.6 L139.0 98.8 L139.7 97.0 L137.4 96.5 L135.0 96.4 L134.3 95.5 L134.4 94.6 L137.0 92.2 L139.7 89.8 L142.7 87.2 L145.7 84.4 L144.6 82.2 L143.9 80.2 L142.0 78.2 L140.3 76.6"/><path transform="translate(450,0)" d="M146.2 71.5 L148.0 70.8 L149.5 72.5 L148.2 74.5 L150.5 75.0 L149.0 77.0 L151.0 78.2 L149.4 80.0 L151.4 81.4 L149.8 83.0 L152.0 84.0 L150.0 85.4 L148.0 84.2 L149.3 82.0 L147.5 80.5 L148.8 78.5 L146.8 77.0 L148.2 75.0 L146.5 73.3 L146.2 71.5"/><path transform="translate(450,0)" d="M150.8 72.0 L152.0 74.0 L150.6 76.5 L152.3 79.0 L150.7 81.5 L152.6 83.5 L151.0 85.8 L149.0 87.6"/><path transform="translate(450,0)" d="M147.3 72.2 L149.8 76.2 L147.8 79.5 L150.3 83.0 L148.2 86.0"/><path transform="translate(450,0)" d="M145.7 79.0 L147.5 81.8 L146.0 84.0 L147.6 86.2 L145.5 88.2 L146.8 90.2 L144.6 92.0 L146.0 94.3 L143.6 95.8 L144.8 98.0 L142.4 99.3"/><path transform="translate(450,0)" d="M147.6 87.5 L145.5 90.8 L146.8 93.5 L144.0 96.2 L145.6 98.5 L142.0 100.3 L143.0 97.0 L140.6 99.2 L141.8 95.6 L139.2 96.2 L141.6 93.0 L143.6 90.2 L141.2 91.2 L143.8 87.8 L146.0 86.2"/><path transform="translate(450,0)" d="M138.6 102.9 L140.8 101.2 L139.0 100.2 L141.6 98.4 L140.2 97.4 L137.6 99.4 L136.2 101.6 L134.8 101.9 L136.6 103.2 L138.6 102.9"/><path transform="translate(450,0)" d="M136.0 95.2 L138.4 94.2 L140.6 92.0 L142.2 89.4 L140.5 90.4 L138.2 92.6 L136.0 95.2"/><path transform="translate(450,0)" d="M142.2 66.6 L143.2 65.2 L144.6 65.0 L145.0 66.6 L144.0 68.4 L142.8 68.6 L142.2 66.6"/><path transform="translate(450,0)" d="M146.3 65.2 L147.4 64.3 L148.6 64.9 L148.4 66.4 L147.2 66.9 L146.3 65.2"/><path transform="translate(450,0)" d="M145.2 68.6 L146.4 67.8 L147.0 69.0 L146.0 70.0 L145.2 68.6"/><path transform="translate(450,0)" d="M140.3 76.6 L136.0 74.4 L132.0 72.7 L127.0 70.5 L122.7 68.0 L120.0 65.9 L117.5 64.0 L115.3 62.7 L114.5 65.0 L113.3 69.3 L113.4 72.0 L114.0 74.7 L115.0 77.5 L115.3 80.0 L114.8 85.0 L114.7 90.7 L115.2 94.0 L115.3 98.0 L114.4 99.8 L113.3 101.3 L114.8 100.0 L116.0 99.3 L117.2 100.8 L118.7 102.0 L117.3 102.2 L116.0 102.7 L114.9 103.4 L114.0 104.0 L113.5 106.5 L113.3 109.3 L114.6 108.5 L116.0 108.0 L117.1 108.8 L118.0 109.3 L116.4 109.8 L115.0 110.5 L114.6 113.0 L114.7 116.0 L113.7 113.0 L112.7 109.3 L111.5 113.5 L110.7 117.3 L111.3 118.7"/><path transform="translate(450,0)" d="M111.3 118.7 L109.5 125.0 L108.0 132.0 L107.0 135.0 L108.3 134.5 L104.0 144.0 L100.0 153.3 L96.0 163.0 L92.0 173.3 L89.0 179.5 L90.5 180.0 L87.0 184.2 L84.0 188.0 L83.0 190.5 L85.5 188.5 L80.5 194.0 L76.0 198.7 L76.3 204.0 L75.0 208.0 L74.4 212.0 L74.6 217.0 L75.3 221.3 L73.3 226.7 L74.7 233.3 L72.5 239.0 L70.0 245.3 L68.7 250.0 L69.8 250.3 L64.8 254.0 L60.7 257.3 L60.2 260.0 L60.7 262.7 L63.0 267.0 L65.3 270.7 L66.5 274.5 L66.7 278.7 L65.0 283.5 L63.3 288.0 L63.3 296.3"/><path transform="translate(450,0)" d="M111.3 119.3 L113.0 121.0 L115.0 120.2 L117.3 120.7 L119.0 122.4 L120.5 121.8 L122.7 124.0 L125.5 125.6 L128.0 128.0 L129.3 130.5 L129.3 133.3 L128.5 136.5 L127.3 139.3 L130.8 142.2 L134.7 144.7 L139.0 144.3 L144.0 143.3 L148.0 144.4 L152.0 146.0 L156.0 148.7 L160.0 149.3 L165.3 148.0 L169.3 150.4 L176.0 149.5 L184.0 148.7 L190.0 149.6 L196.0 149.3 L213.3 153.3 L230.7 157.3"/><path transform="translate(450,0)" d="M246.7 82.0 L236.0 124.0 L231.3 148.0 L230.7 157.3"/><path transform="translate(450,0)" d="M230.7 157.3 L233.3 162.7 L237.3 168.0 L232.0 176.0 L226.7 184.0 L221.3 189.3 L216.7 196.0 L217.3 199.3 L221.3 203.3 L220.7 204.0 L216.7 212.0 L207.3 256.0"/><path transform="translate(450,0)" d="M262.7 85.3 L256.7 111.3 L258.5 115.0 L260.7 118.7 L260.5 122.5 L259.3 126.0 L262.4 129.2 L265.3 132.7 L268.4 138.8 L271.3 145.3 L274.7 148.0 L279.7 150.4 L277.4 155.4 L275.3 160.0 L273.3 166.7 L271.3 170.7 L270.4 176.7 L273.3 180.7 L277.5 177.8 L281.3 175.3 L283.3 178.7 L284.7 186.7 L287.3 193.3 L287.3 198.7 L291.3 200.7 L292.7 208.7 L295.3 212.0 L297.3 209.7 L300.5 210.2 L303.3 211.3 L306.0 209.7 L313.0 210.3 L320.0 211.3 L321.3 207.3 L324.0 207.3 L327.7 214.7"/><path transform="translate(450,0)" d="M342.3 203.6 L330.0 202.3 L318.0 277.3 L315.2 296.3"/><path transform="translate(450,0)" d="M75.3 221.3 L140.0 239.8 L152.0 243.3 L207.3 256.0 L262.0 267.6 L318.0 277.3"/><path transform="translate(450,0)" d="M152.0 243.3 L138.2 296.3"/><path transform="translate(450,0)" d="M262.0 267.6 L256.7 296.3"/><path transform="translate(450,0)" d="M282.7 296.3 L280.8 289.0 L280.0 284.7 L281.5 281.5 L284.0 280.0 L284.7 280.7 L285.3 286.0 L287.0 289.5 L289.3 292.0 L291.3 294.0 L291.6 296.3"/></g>
<rect x="478.70" y="28.70" width="313.60" height="267.60" fill="none" stroke="#000" stroke-width="0.8"/>
<g stroke="#000" stroke-width="0.8" fill="none"><path d="M482.20 296.30H788.40"/><path d="M482.20 296.30v6"/><path d="M525.40 296.30v6"/><path d="M568.50 296.30v6"/><path d="M612.50 296.30v6"/><path d="M656.20 296.30v6"/><path d="M700.00 296.30v6"/><path d="M744.20 296.30v6"/><path d="M788.40 296.30v6"/><path d="M478.70 36.40V292.80"/><path d="M478.70 36.40h-6"/><path d="M478.70 88.60h-6"/><path d="M478.70 140.30h-6"/><path d="M478.70 191.40h-6"/><path d="M478.70 242.20h-6"/><path d="M478.70 292.80h-6"/></g><g font-family="Liberation Sans, Arial, Helvetica, sans-serif" font-size="10" letter-spacing="0.2" fill="#000" text-anchor="middle"><text x="482.20" y="317.90">-122</text><text x="525.40" y="317.90">-120</text><text x="568.50" y="317.90">-118</text><text x="612.50" y="317.90">-116</text><text x="656.20" y="317.90">-114</text><text x="700.00" y="317.90">-112</text><text x="744.20" y="317.90">-110</text><text x="788.40" y="317.90">-108</text><text transform="translate(464.40,36.40) rotate(-90)">52</text><text transform="translate(464.40,88.60) rotate(-90)">50</text><text transform="translate(464.40,140.30) rotate(-90)">48</text><text transform="translate(464.40,191.40) rotate(-90)">46</text><text transform="translate(464.40,242.20) rotate(-90)">44</text><text transform="translate(464.40,292.80) rotate(-90)">42</text></g>
<defs><linearGradient id="g450_0" x1="0" y1="1" x2="0" y2="0"><stop offset="0.0082" stop-color="#e8e8e8"/><stop offset="0.0246" stop-color="#e0e0e0"/><stop offset="0.0410" stop-color="#d6d6d6"/><stop offset="0.0574" stop-color="#cccccc"/><stop offset="0.0738" stop-color="#c0c0c0"/><stop offset="0.0902" stop-color="#b4b4b4"/><stop offset="0.1066" stop-color="#a8a8a8"/><stop offset="0.1230" stop-color="#9c9c9c"/><stop offset="0.1393" stop-color="#8c9ca8"/><stop offset="0.1557" stop-color="#82a0b4"/><stop offset="0.1721" stop-color="#78a4c4"/><stop offset="0.1885" stop-color="#6ca8d0"/><stop offset="0.2049" stop-color="#62acde"/><stop offset="0.2213" stop-color="#58b2ee"/><stop offset="0.2377" stop-color="#4caae8"/><stop offset="0.2541" stop-color="#40a2e0"/><stop offset="0.2705" stop-color="#3498d8"/><stop offset="0.2869" stop-color="#2a8ece"/><stop offset="0.3033" stop-color="#1c83c4"/><stop offset="0.3197" stop-color="#0c77ba"/><stop offset="0.3361" stop-color="#0073b3"/><stop offset="0.3525" stop-color="#0079a6"/><stop offset="0.3689" stop-color="#00809c"/><stop offset="0.3852" stop-color="#00878f"/><stop offset="0.4016" stop-color="#008f86"/><stop offset="0.4180" stop-color="#00957e"/><stop offset="0.4344" stop-color="#009c74"/><stop offset="0.4508" stop-color="#1ca46c"/><stop offset="0.4672" stop-color="#36ac66"/><stop offset="0.4836" stop-color="#4eb462"/><stop offset="0.5000" stop-color="#80c456"/><stop offset="0.5164" stop-color="#a8d050"/><stop offset="0.5328" stop-color="#ccd848"/><stop offset="0.5492" stop-color="#f0e440"/><stop offset="0.5656" stop-color="#f0dc38"/><stop offset="0.5820" stop-color="#f0d030"/><stop offset="0.5984" stop-color="#eec828"/><stop offset="0.6148" stop-color="#ecc020"/><stop offset="0.6311" stop-color="#eab418"/><stop offset="0.6475" stop-color="#e8a808"/><stop offset="0.6639" stop-color="#e69c04"/><stop offset="0.6803" stop-color="#e49404"/><stop offset="0.6967" stop-color="#e28c04"/><stop offset="0.7131" stop-color="#e08404"/><stop offset="0.7295" stop-color="#de7804"/><stop offset="0.7459" stop-color="#dc6c04"/><stop offset="0.7623" stop-color="#da6404"/><stop offset="0.7787" stop-color="#d85c04"/><stop offset="0.7951" stop-color="#d46420"/><stop offset="0.8115" stop-color="#d4683c"/><stop offset="0.8279" stop-color="#cc7050"/><stop offset="0.8443" stop-color="#cc7468"/><stop offset="0.8607" stop-color="#cc7888"/><stop offset="0.8770" stop-color="#cc78a0"/><stop offset="0.8934" stop-color="#d06c98"/><stop offset="0.9098" stop-color="#d8587c"/><stop offset="0.9262" stop-color="#e04464"/><stop offset="0.9426" stop-color="#e83048"/><stop offset="0.9590" stop-color="#f02030"/><stop offset="0.9754" stop-color="#f81018"/><stop offset="0.9918" stop-color="#ff0000"/></linearGradient></defs><rect x="840.70" y="42.00" width="7.70" height="241.20" fill="url(#g450_0)"/><path d="M840.70 42.00V283.20H848.40V42.00" fill="none" stroke="#000" stroke-width="0.8"/><g stroke="#000" stroke-width="0.8"><path d="M848.40 281.30h6.2"/><path d="M848.40 261.54h6.2"/><path d="M848.40 241.78h6.2"/><path d="M848.40 222.03h6.2"/><path d="M848.40 202.27h6.2"/><path d="M848.40 182.51h6.2"/><path d="M848.40 162.75h6.2"/><path d="M848.40 142.99h6.2"/><path d="M848.40 123.23h6.2"/><path d="M848.40 103.47h6.2"/><path d="M848.40 83.72h6.2"/><path d="M848.40 63.96h6.2"/><path d="M848.40 44.20h6.2"/></g><g font-family="Liberation Sans, Arial, Helvetica, sans-serif" font-size="10" letter-spacing="0.4" fill="#000"><text x="860.00" y="285.20">0</text><text x="860.00" y="265.44">10</text><text x="860.00" y="245.68">20</text><text x="860.00" y="225.93">30</text><text x="860.00" y="206.17">40</text><text x="860.00" y="186.41">50</text><text x="860.00" y="166.65">60</text><text x="860.00" y="146.89">70</text><text x="860.00" y="127.13">80</text><text x="860.00" y="107.38">90</text><text x="860.00" y="87.62">100</text><text x="860.00" y="67.86">110</text><text x="860.00" y="48.10">120</text></g><text font-family="Liberation Sans, Arial, Helvetica, sans-serif" font-size="12" text-anchor="middle" x="844.50" y="39.50">ppbV</text>
<text font-family="Liberation Sans, Arial, Helvetica, sans-serif" font-size="12.08" font-weight="bold" text-anchor="middle" x="635.30" y="19.00">Model 2 (noFires): O3_8HRMAX on 04/09/2025</text>
<text font-family="Liberation Sans, Arial, Helvetica, sans-serif" font-size="12" letter-spacing="0.05" text-anchor="middle" x="635.00" y="336.00">Domain size: 31x36 | Max = 57 at (9, 31)</text><text font-family="Liberation Sans, Arial, Helvetica, sans-serif" font-size="12" letter-spacing="0.05" text-anchor="middle" x="635.30" y="348.00">Mean: 44 |  Median: 44</text>
<rect x="36.20" y="411.00" width="298.80" height="255.80" fill="#e8e8e8"/>
<rect x="94.30" y="592.54" width="8.30" height="8.25" fill="#e8e6c0"/>
<rect x="86.00" y="600.79" width="8.30" height="8.25" fill="#e9e8e0"/>
<rect x="94.30" y="600.79" width="8.30" height="8.25" fill="#e8e8de"/>
<rect x="94.30" y="609.04" width="8.30" height="8.25" fill="#e8e8de"/>
<rect x="102.60" y="609.04" width="8.30" height="8.25" fill="#e8e8de"/>
<rect x="94.30" y="617.29" width="8.30" height="8.25" fill="#e9e7c8"/>
<rect x="102.60" y="617.29" width="8.30" height="8.25" fill="#e8e8dc"/>
<rect x="94.30" y="633.79" width="8.30" height="8.25" fill="#e9e7c8"/>
<rect x="193.90" y="576.03" width="8.30" height="8.25" fill="#e9e8da"/>
<g clip-path="url(#cp2)" fill="none" stroke="#000" stroke-width="0.85" stroke-linejoin="round"><path transform="translate(0,376)" d="M93.6 28.7 L96.8 29.6 L98.4 31.2 L98.0 33.2 L100.0 34.0 L101.2 32.4 L102.8 31.2 L104.4 32.0 L103.6 34.0 L105.2 33.6 L106.0 34.8 L104.4 36.0 L106.8 38.0 L104.8 38.8 L102.4 40.0 L103.6 40.8 L104.4 42.4 L106.0 44.8 L107.6 45.6 L109.2 44.8 L110.4 44.0 L111.2 45.2 L113.6 46.0 L116.0 47.0 L118.8 45.6 L120.4 43.2 L120.6 41.2 L120.0 44.0 L118.0 46.4 L115.2 48.0 L112.0 49.6 L111.2 51.2 L112.4 53.2 L116.0 56.4 L120.0 60.0 L121.2 61.2 L122.3 60.8 L127.0 65.5 L132.0 68.9 L133.8 70.4 L135.0 70.7 L137.5 70.0 L139.1 68.9 L139.9 66.8 L139.3 65.0 L138.6 62.5 L140.5 60.0 L139.8 57.5 L141.0 55.5 L139.0 54.2 L136.1 52.7 L135.2 50.0 L134.0 46.4 L131.2 43.2 L127.2 39.2 L123.6 36.0 L122.0 33.6 L121.2 30.4 L122.4 28.8"/><path transform="translate(0,376)" d="M136.5 51.5 L138.5 54.0 L137.3 55.5 L139.5 57.5 L138.0 59.0 L140.3 60.5 L138.2 62.0 L140.6 63.8 L139.0 65.2 L140.8 66.2"/><path transform="translate(0,376)" d="M135.8 54.5 L137.6 57.0 L136.6 59.0 L138.7 61.2 L137.2 63.5 L139.2 64.5"/><path transform="translate(0,376)" d="M138.4 52.2 L140.2 54.8 L139.4 57.0 L141.3 59.2 L140.4 62.0 L141.6 64.2"/><path transform="translate(0,376)" d="M127.2 28.8 L129.6 33.2 L131.6 36.4 L133.6 38.4 L132.6 36.0 L131.6 34.0 L130.4 31.6 L131.0 29.6 L132.4 28.8"/><path transform="translate(0,376)" d="M140.4 29.2 L139.2 31.2 L136.4 33.6 L135.6 36.0 L136.8 38.8 L138.4 40.0 L139.2 38.0 L138.0 34.8 L139.4 35.8 L140.8 36.4 L144.4 36.4 L141.4 37.2 L140.4 40.0 L141.6 42.8 L143.2 44.0 L146.4 41.2 L148.4 39.2 L150.4 38.4 L148.4 40.8 L147.2 45.2 L148.8 48.0 L151.2 48.8 L153.2 46.8 L153.6 45.2 L152.4 48.4 L150.0 49.6 L146.8 49.6 L146.0 52.4 L146.8 56.0 L148.4 54.0 L150.4 55.6 L151.1 58.1"/><path transform="translate(0,376)" d="M134.4 28.8 L136.2 30.0 L138.4 29.2 L140.4 29.2"/><path transform="translate(0,376)" d="M151.1 58.1 L160.0 59.3 L180.0 65.3 L200.0 70.7 L246.7 82.0 L262.7 85.3 L280.0 89.0 L342.3 100.0"/><path transform="translate(0,376)" d="M151.1 58.1 L151.3 61.0 L151.7 64.1 L153.3 64.4 L154.7 65.3 L154.3 67.2 L153.5 68.9 L151.5 69.6 L149.9 70.7 L151.2 71.0 L152.3 71.8 L152.8 73.5 L152.9 75.4 L152.1 78.0 L151.7 80.2 L153.3 82.0 L154.7 83.8 L153.2 84.9 L151.7 85.6 L150.0 86.9 L148.7 88.0 L148.8 90.5 L149.3 92.8 L148.5 96.0 L148.1 98.8 L146.0 99.9 L143.9 100.6 L142.0 102.4 L140.3 104.1 L138.5 104.3 L136.7 104.1 L134.8 103.4 L133.2 102.3 L135.5 101.3 L137.9 100.6 L139.0 98.8 L139.7 97.0 L137.4 96.5 L135.0 96.4 L134.3 95.5 L134.4 94.6 L137.0 92.2 L139.7 89.8 L142.7 87.2 L145.7 84.4 L144.6 82.2 L143.9 80.2 L142.0 78.2 L140.3 76.6"/><path transform="translate(0,376)" d="M146.2 71.5 L148.0 70.8 L149.5 72.5 L148.2 74.5 L150.5 75.0 L149.0 77.0 L151.0 78.2 L149.4 80.0 L151.4 81.4 L149.8 83.0 L152.0 84.0 L150.0 85.4 L148.0 84.2 L149.3 82.0 L147.5 80.5 L148.8 78.5 L146.8 77.0 L148.2 75.0 L146.5 73.3 L146.2 71.5"/><path transform="translate(0,376)" d="M150.8 72.0 L152.0 74.0 L150.6 76.5 L152.3 79.0 L150.7 81.5 L152.6 83.5 L151.0 85.8 L149.0 87.6"/><path transform="translate(0,376)" d="M147.3 72.2 L149.8 76.2 L147.8 79.5 L150.3 83.0 L148.2 86.0"/><path transform="translate(0,376)" d="M145.7 79.0 L147.5 81.8 L146.0 84.0 L147.6 86.2 L145.5 88.2 L146.8 90.2 L144.6 92.0 L146.0 94.3 L143.6 95.8 L144.8 98.0 L142.4 99.3"/><path transform="translate(0,376)" d="M147.6 87.5 L145.5 90.8 L146.8 93.5 L144.0 96.2 L145.6 98.5 L142.0 100.3 L143.0 97.0 L140.6 99.2 L141.8 95.6 L139.2 96.2 L141.6 93.0 L143.6 90.2 L141.2 91.2 L143.8 87.8 L146.0 86.2"/><path transform="translate(0,376)" d="M138.6 102.9 L140.8 101.2 L139.0 100.2 L141.6 98.4 L140.2 97.4 L137.6 99.4 L136.2 101.6 L134.8 101.9 L136.6 103.2 L138.6 102.9"/><path transform="translate(0,376)" d="M136.0 95.2 L138.4 94.2 L140.6 92.0 L142.2 89.4 L140.5 90.4 L138.2 92.6 L136.0 95.2"/><path transform="translate(0,376)" d="M142.2 66.6 L143.2 65.2 L144.6 65.0 L145.0 66.6 L144.0 68.4 L142.8 68.6 L142.2 66.6"/><path transform="translate(0,376)" d="M146.3 65.2 L147.4 64.3 L148.6 64.9 L148.4 66.4 L147.2 66.9 L146.3 65.2"/><path transform="translate(0,376)" d="M145.2 68.6 L146.4 67.8 L147.0 69.0 L146.0 70.0 L145.2 68.6"/><path transform="translate(0,376)" d="M140.3 76.6 L136.0 74.4 L132.0 72.7 L127.0 70.5 L122.7 68.0 L120.0 65.9 L117.5 64.0 L115.3 62.7 L114.5 65.0 L113.3 69.3 L113.4 72.0 L114.0 74.7 L115.0 77.5 L115.3 80.0 L114.8 85.0 L114.7 90.7 L115.2 94.0 L115.3 98.0 L114.4 99.8 L113.3 101.3 L114.8 100.0 L116.0 99.3 L117.2 100.8 L118.7 102.0 L117.3 102.2 L116.0 102.7 L114.9 103.4 L114.0 104.0 L113.5 106.5 L113.3 109.3 L114.6 108.5 L116.0 108.0 L117.1 108.8 L118.0 109.3 L116.4 109.8 L115.0 110.5 L114.6 113.0 L114.7 116.0 L113.7 113.0 L112.7 109.3 L111.5 113.5 L110.7 117.3 L111.3 118.7"/><path transform="translate(0,376)" d="M111.3 118.7 L109.5 125.0 L108.0 132.0 L107.0 135.0 L108.3 134.5 L104.0 144.0 L100.0 153.3 L96.0 163.0 L92.0 173.3 L89.0 179.5 L90.5 180.0 L87.0 184.2 L84.0 188.0 L83.0 190.5 L85.5 188.5 L80.5 194.0 L76.0 198.7 L76.3 204.0 L75.0 208.0 L74.4 212.0 L74.6 217.0 L75.3 221.3 L73.3 226.7 L74.7 233.3 L72.5 239.0 L70.0 245.3 L68.7 250.0 L69.8 250.3 L64.8 254.0 L60.7 257.3 L60.2 260.0 L60.7 262.7 L63.0 267.0 L65.3 270.7 L66.5 274.5 L66.7 278.7 L65.0 283.5 L63.3 288.0 L63.3 296.3"/><path transform="translate(0,376)" d="M111.3 119.3 L113.0 121.0 L115.0 120.2 L117.3 120.7 L119.0 122.4 L120.5 121.8 L122.7 124.0 L125.5 125.6 L128.0 128.0 L129.3 130.5 L129.3 133.3 L128.5 136.5 L127.3 139.3 L130.8 142.2 L134.7 144.7 L139.0 144.3 L144.0 143.3 L148.0 144.4 L152.0 146.0 L156.0 148.7 L160.0 149.3 L165.3 148.0 L169.3 150.4 L176.0 149.5 L184.0 148.7 L190.0 149.6 L196.0 149.3 L213.3 153.3 L230.7 157.3"/><path transform="translate(0,376)" d="M246.7 82.0 L236.0 124.0 L231.3 148.0 L230.7 157.3"/><path transform="translate(0,376)" d="M230.7 157.3 L233.3 162.7 L237.3 168.0 L232.0 176.0 L226.7 184.0 L221.3 189.3 L216.7 196.0 L217.3 199.3 L221.3 203.3 L220.7 204.0 L216.7 212.0 L207.3 256.0"/><path transform="translate(0,376)" d="M262.7 85.3 L256.7 111.3 L258.5 115.0 L260.7 118.7 L260.5 122.5 L259.3 126.0 L262.4 129.2 L265.3 132.7 L268.4 138.8 L271.3 145.3 L274.7 148.0 L279.7 150.4 L277.4 155.4 L275.3 160.0 L273.3 166.7 L271.3 170.7 L270.4 176.7 L273.3 180.7 L277.5 177.8 L281.3 175.3 L283.3 178.7 L284.7 186.7 L287.3 193.3 L287.3 198.7 L291.3 200.7 L292.7 208.7 L295.3 212.0 L297.3 209.7 L300.5 210.2 L303.3 211.3 L306.0 209.7 L313.0 210.3 L320.0 211.3 L321.3 207.3 L324.0 207.3 L327.7 214.7"/><path transform="translate(0,376)" d="M342.3 203.6 L330.0 202.3 L318.0 277.3 L315.2 296.3"/><path transform="translate(0,376)" d="M75.3 221.3 L140.0 239.8 L152.0 243.3 L207.3 256.0 L262.0 267.6 L318.0 277.3"/><path transform="translate(0,376)" d="M152.0 243.3 L138.2 296.3"/><path transform="translate(0,376)" d="M262.0 267.6 L256.7 296.3"/><path transform="translate(0,376)" d="M282.7 296.3 L280.8 289.0 L280.0 284.7 L281.5 281.5 L284.0 280.0 L284.7 280.7 L285.3 286.0 L287.0 289.5 L289.3 292.0 L291.3 294.0 L291.6 296.3"/></g>
<rect x="28.70" y="404.70" width="313.60" height="267.60" fill="none" stroke="#000" stroke-width="0.8"/>
<defs><linearGradient id="g0_376" x1="0" y1="1" x2="0" y2="0"><stop offset="0.0087" stop-color="#e8e8e8"/><stop offset="0.0579" stop-color="#ebe8c0"/><stop offset="0.1072" stop-color="#eee890"/><stop offset="0.1564" stop-color="#f0e660"/><stop offset="0.1958" stop-color="#f0e440"/><stop offset="0.2253" stop-color="#f0dc38"/><stop offset="0.2549" stop-color="#f0d030"/><stop offset="0.2844" stop-color="#eec828"/><stop offset="0.3140" stop-color="#ecc020"/><stop offset="0.3435" stop-color="#eab418"/><stop offset="0.3730" stop-color="#e8a808"/><stop offset="0.4026" stop-color="#e69c04"/><stop offset="0.4321" stop-color="#e49404"/><stop offset="0.4617" stop-color="#e28c04"/><stop offset="0.4912" stop-color="#e08404"/><stop offset="0.5207" stop-color="#de7804"/><stop offset="0.5503" stop-color="#dc6c04"/><stop offset="0.5798" stop-color="#da6404"/><stop offset="0.6093" stop-color="#d85c04"/><stop offset="0.6389" stop-color="#d46420"/><stop offset="0.6684" stop-color="#d4683c"/><stop offset="0.6980" stop-color="#cc7050"/><stop offset="0.7275" stop-color="#cc7468"/><stop offset="0.7570" stop-color="#cc7888"/><stop offset="0.7866" stop-color="#cc78a0"/><stop offset="0.8161" stop-color="#d06c98"/><stop offset="0.8457" stop-color="#d8587c"/><stop offset="0.8752" stop-color="#e04464"/><stop offset="0.9047" stop-color="#e83048"/><stop offset="0.9343" stop-color="#f02030"/><stop offset="0.9638" stop-color="#f81018"/><stop offset="0.9934" stop-color="#ff0000"/></linearGradient></defs><rect x="390.70" y="418.40" width="7.70" height="241.00" fill="url(#g0_376)"/><path d="M390.70 418.40V659.40H398.40V418.40" fill="none" stroke="#000" stroke-width="0.8"/><g stroke="#000" stroke-width="0.8"><path d="M398.40 657.30h6.2"/><path d="M398.40 623.40h6.2"/><path d="M398.40 589.50h6.2"/><path d="M398.40 555.60h6.2"/><path d="M398.40 521.70h6.2"/><path d="M398.40 487.80h6.2"/><path d="M398.40 453.90h6.2"/><path d="M398.40 420.00h6.2"/></g><g font-family="Liberation Sans, Arial, Helvetica, sans-serif" font-size="10" letter-spacing="0.4" fill="#000"><text x="410.00" y="661.20">0</text><text x="410.00" y="627.30">5</text><text x="410.00" y="593.40">10</text><text x="410.00" y="559.50">15</text><text x="410.00" y="525.60">20</text><text x="410.00" y="491.70">25</text><text x="410.00" y="457.80">30</text><text x="410.00" y="423.90">35</text></g><text font-family="Liberation Sans, Arial, Helvetica, sans-serif" font-size="12" text-anchor="middle" x="394.50" y="415.50">ppbV</text>
<text font-family="Liberation Sans, Arial, Helvetica, sans-serif" font-size="12.08" font-weight="bold" text-anchor="middle" x="185.30" y="395.00">Model 1 - Model 2: O3_8HRMAX</text>
<text font-family="Liberation Sans, Arial, Helvetica, sans-serif" font-size="12" letter-spacing="0.05" text-anchor="middle" x="185.00" y="712.00">Min = -0.239 | Max = 1.7</text><text font-family="Liberation Sans, Arial, Helvetica, sans-serif" font-size="12" letter-spacing="0.05" text-anchor="middle" x="185.30" y="724.00">Mean: 0.0181 |  Median: 4.39e-05</text>
<rect x="486.20" y="411.00" width="298.80" height="255.80" fill="#e8e8e8"/>
<rect x="544.30" y="592.54" width="8.30" height="8.25" fill="#e9e7c8"/>
<rect x="544.30" y="609.04" width="8.30" height="8.25" fill="#e9e8d8"/>
<rect x="544.30" y="617.29" width="8.30" height="8.25" fill="#e9e8d8"/>
<rect x="544.30" y="633.79" width="8.30" height="8.25" fill="#e9e8d0"/>
<g clip-path="url(#cp3)" fill="none" stroke="#000" stroke-width="0.85" stroke-linejoin="round"><path transform="translate(450,376)" d="M93.6 28.7 L96.8 29.6 L98.4 31.2 L98.0 33.2 L100.0 34.0 L101.2 32.4 L102.8 31.2 L104.4 32.0 L103.6 34.0 L105.2 33.6 L106.0 34.8 L104.4 36.0 L106.8 38.0 L104.8 38.8 L102.4 40.0 L103.6 40.8 L104.4 42.4 L106.0 44.8 L107.6 45.6 L109.2 44.8 L110.4 44.0 L111.2 45.2 L113.6 46.0 L116.0 47.0 L118.8 45.6 L120.4 43.2 L120.6 41.2 L120.0 44.0 L118.0 46.4 L115.2 48.0 L112.0 49.6 L111.2 51.2 L112.4 53.2 L116.0 56.4 L120.0 60.0 L121.2 61.2 L122.3 60.8 L127.0 65.5 L132.0 68.9 L133.8 70.4 L135.0 70.7 L137.5 70.0 L139.1 68.9 L139.9 66.8 L139.3 65.0 L138.6 62.5 L140.5 60.0 L139.8 57.5 L141.0 55.5 L139.0 54.2 L136.1 52.7 L135.2 50.0 L134.0 46.4 L131.2 43.2 L127.2 39.2 L123.6 36.0 L122.0 33.6 L121.2 30.4 L122.4 28.8"/><path transform="translate(450,376)" d="M136.5 51.5 L138.5 54.0 L137.3 55.5 L139.5 57.5 L138.0 59.0 L140.3 60.5 L138.2 62.0 L140.6 63.8 L139.0 65.2 L140.8 66.2"/><path transform="translate(450,376)" d="M135.8 54.5 L137.6 57.0 L136.6 59.0 L138.7 61.2 L137.2 63.5 L139.2 64.5"/><path transform="translate(450,376)" d="M138.4 52.2 L140.2 54.8 L139.4 57.0 L141.3 59.2 L140.4 62.0 L141.6 64.2"/><path transform="translate(450,376)" d="M127.2 28.8 L129.6 33.2 L131.6 36.4 L133.6 38.4 L132.6 36.0 L131.6 34.0 L130.4 31.6 L131.0 29.6 L132.4 28.8"/><path transform="translate(450,376)" d="M140.4 29.2 L139.2 31.2 L136.4 33.6 L135.6 36.0 L136.8 38.8 L138.4 40.0 L139.2 38.0 L138.0 34.8 L139.4 35.8 L140.8 36.4 L144.4 36.4 L141.4 37.2 L140.4 40.0 L141.6 42.8 L143.2 44.0 L146.4 41.2 L148.4 39.2 L150.4 38.4 L148.4 40.8 L147.2 45.2 L148.8 48.0 L151.2 48.8 L153.2 46.8 L153.6 45.2 L152.4 48.4 L150.0 49.6 L146.8 49.6 L146.0 52.4 L146.8 56.0 L148.4 54.0 L150.4 55.6 L151.1 58.1"/><path transform="translate(450,376)" d="M134.4 28.8 L136.2 30.0 L138.4 29.2 L140.4 29.2"/><path transform="translate(450,376)" d="M151.1 58.1 L160.0 59.3 L180.0 65.3 L200.0 70.7 L246.7 82.0 L262.7 85.3 L280.0 89.0 L342.3 100.0"/><path transform="translate(450,376)" d="M151.1 58.1 L151.3 61.0 L151.7 64.1 L153.3 64.4 L154.7 65.3 L154.3 67.2 L153.5 68.9 L151.5 69.6 L149.9 70.7 L151.2 71.0 L152.3 71.8 L152.8 73.5 L152.9 75.4 L152.1 78.0 L151.7 80.2 L153.3 82.0 L154.7 83.8 L153.2 84.9 L151.7 85.6 L150.0 86.9 L148.7 88.0 L148.8 90.5 L149.3 92.8 L148.5 96.0 L148.1 98.8 L146.0 99.9 L143.9 100.6 L142.0 102.4 L140.3 104.1 L138.5 104.3 L136.7 104.1 L134.8 103.4 L133.2 102.3 L135.5 101.3 L137.9 100.6 L139.0 98.8 L139.7 97.0 L137.4 96.5 L135.0 96.4 L134.3 95.5 L134.4 94.6 L137.0 92.2 L139.7 89.8 L142.7 87.2 L145.7 84.4 L144.6 82.2 L143.9 80.2 L142.0 78.2 L140.3 76.6"/><path transform="translate(450,376)" d="M146.2 71.5 L148.0 70.8 L149.5 72.5 L148.2 74.5 L150.5 75.0 L149.0 77.0 L151.0 78.2 L149.4 80.0 L151.4 81.4 L149.8 83.0 L152.0 84.0 L150.0 85.4 L148.0 84.2 L149.3 82.0 L147.5 80.5 L148.8 78.5 L146.8 77.0 L148.2 75.0 L146.5 73.3 L146.2 71.5"/><path transform="translate(450,376)" d="M150.8 72.0 L152.0 74.0 L150.6 76.5 L152.3 79.0 L150.7 81.5 L152.6 83.5 L151.0 85.8 L149.0 87.6"/><path transform="translate(450,376)" d="M147.3 72.2 L149.8 76.2 L147.8 79.5 L150.3 83.0 L148.2 86.0"/><path transform="translate(450,376)" d="M145.7 79.0 L147.5 81.8 L146.0 84.0 L147.6 86.2 L145.5 88.2 L146.8 90.2 L144.6 92.0 L146.0 94.3 L143.6 95.8 L144.8 98.0 L142.4 99.3"/><path transform="translate(450,376)" d="M147.6 87.5 L145.5 90.8 L146.8 93.5 L144.0 96.2 L145.6 98.5 L142.0 100.3 L143.0 97.0 L140.6 99.2 L141.8 95.6 L139.2 96.2 L141.6 93.0 L143.6 90.2 L141.2 91.2 L143.8 87.8 L146.0 86.2"/><path transform="translate(450,376)" d="M138.6 102.9 L140.8 101.2 L139.0 100.2 L141.6 98.4 L140.2 97.4 L137.6 99.4 L136.2 101.6 L134.8 101.9 L136.6 103.2 L138.6 102.9"/><path transform="translate(450,376)" d="M136.0 95.2 L138.4 94.2 L140.6 92.0 L142.2 89.4 L140.5 90.4 L138.2 92.6 L136.0 95.2"/><path transform="translate(450,376)" d="M142.2 66.6 L143.2 65.2 L144.6 65.0 L145.0 66.6 L144.0 68.4 L142.8 68.6 L142.2 66.6"/><path transform="translate(450,376)" d="M146.3 65.2 L147.4 64.3 L148.6 64.9 L148.4 66.4 L147.2 66.9 L146.3 65.2"/><path transform="translate(450,376)" d="M145.2 68.6 L146.4 67.8 L147.0 69.0 L146.0 70.0 L145.2 68.6"/><path transform="translate(450,376)" d="M140.3 76.6 L136.0 74.4 L132.0 72.7 L127.0 70.5 L122.7 68.0 L120.0 65.9 L117.5 64.0 L115.3 62.7 L114.5 65.0 L113.3 69.3 L113.4 72.0 L114.0 74.7 L115.0 77.5 L115.3 80.0 L114.8 85.0 L114.7 90.7 L115.2 94.0 L115.3 98.0 L114.4 99.8 L113.3 101.3 L114.8 100.0 L116.0 99.3 L117.2 100.8 L118.7 102.0 L117.3 102.2 L116.0 102.7 L114.9 103.4 L114.0 104.0 L113.5 106.5 L113.3 109.3 L114.6 108.5 L116.0 108.0 L117.1 108.8 L118.0 109.3 L116.4 109.8 L115.0 110.5 L114.6 113.0 L114.7 116.0 L113.7 113.0 L112.7 109.3 L111.5 113.5 L110.7 117.3 L111.3 118.7"/><path transform="translate(450,376)" d="M111.3 118.7 L109.5 125.0 L108.0 132.0 L107.0 135.0 L108.3 134.5 L104.0 144.0 L100.0 153.3 L96.0 163.0 L92.0 173.3 L89.0 179.5 L90.5 180.0 L87.0 184.2 L84.0 188.0 L83.0 190.5 L85.5 188.5 L80.5 194.0 L76.0 198.7 L76.3 204.0 L75.0 208.0 L74.4 212.0 L74.6 217.0 L75.3 221.3 L73.3 226.7 L74.7 233.3 L72.5 239.0 L70.0 245.3 L68.7 250.0 L69.8 250.3 L64.8 254.0 L60.7 257.3 L60.2 260.0 L60.7 262.7 L63.0 267.0 L65.3 270.7 L66.5 274.5 L66.7 278.7 L65.0 283.5 L63.3 288.0 L63.3 296.3"/><path transform="translate(450,376)" d="M111.3 119.3 L113.0 121.0 L115.0 120.2 L117.3 120.7 L119.0 122.4 L120.5 121.8 L122.7 124.0 L125.5 125.6 L128.0 128.0 L129.3 130.5 L129.3 133.3 L128.5 136.5 L127.3 139.3 L130.8 142.2 L134.7 144.7 L139.0 144.3 L144.0 143.3 L148.0 144.4 L152.0 146.0 L156.0 148.7 L160.0 149.3 L165.3 148.0 L169.3 150.4 L176.0 149.5 L184.0 148.7 L190.0 149.6 L196.0 149.3 L213.3 153.3 L230.7 157.3"/><path transform="translate(450,376)" d="M246.7 82.0 L236.0 124.0 L231.3 148.0 L230.7 157.3"/><path transform="translate(450,376)" d="M230.7 157.3 L233.3 162.7 L237.3 168.0 L232.0 176.0 L226.7 184.0 L221.3 189.3 L216.7 196.0 L217.3 199.3 L221.3 203.3 L220.7 204.0 L216.7 212.0 L207.3 256.0"/><path transform="translate(450,376)" d="M262.7 85.3 L256.7 111.3 L258.5 115.0 L260.7 118.7 L260.5 122.5 L259.3 126.0 L262.4 129.2 L265.3 132.7 L268.4 138.8 L271.3 145.3 L274.7 148.0 L279.7 150.4 L277.4 155.4 L275.3 160.0 L273.3 166.7 L271.3 170.7 L270.4 176.7 L273.3 180.7 L277.5 177.8 L281.3 175.3 L283.3 178.7 L284.7 186.7 L287.3 193.3 L287.3 198.7 L291.3 200.7 L292.7 208.7 L295.3 212.0 L297.3 209.7 L300.5 210.2 L303.3 211.3 L306.0 209.7 L313.0 210.3 L320.0 211.3 L321.3 207.3 L324.0 207.3 L327.7 214.7"/><path transform="translate(450,376)" d="M342.3 203.6 L330.0 202.3 L318.0 277.3 L315.2 296.3"/><path transform="translate(450,376)" d="M75.3 221.3 L140.0 239.8 L152.0 243.3 L207.3 256.0 L262.0 267.6 L318.0 277.3"/><path transform="translate(450,376)" d="M152.0 243.3 L138.2 296.3"/><path transform="translate(450,376)" d="M262.0 267.6 L256.7 296.3"/><path transform="translate(450,376)" d="M282.7 296.3 L280.8 289.0 L280.0 284.7 L281.5 281.5 L284.0 280.0 L284.7 280.7 L285.3 286.0 L287.0 289.5 L289.3 292.0 L291.3 294.0 L291.6 296.3"/></g>
<rect x="478.70" y="404.70" width="313.60" height="267.60" fill="none" stroke="#000" stroke-width="0.8"/>
<defs><linearGradient id="g450_376" x1="0" y1="1" x2="0" y2="0"><stop offset="0.0095" stop-color="#e8e8e8"/><stop offset="0.0586" stop-color="#ebe8c0"/><stop offset="0.1077" stop-color="#eee890"/><stop offset="0.1567" stop-color="#f0e660"/><stop offset="0.1960" stop-color="#f0e440"/><stop offset="0.2254" stop-color="#f0dc38"/><stop offset="0.2549" stop-color="#f0d030"/><stop offset="0.2843" stop-color="#eec828"/><stop offset="0.3138" stop-color="#ecc020"/><stop offset="0.3432" stop-color="#eab418"/><stop offset="0.3726" stop-color="#e8a808"/><stop offset="0.4021" stop-color="#e69c04"/><stop offset="0.4315" stop-color="#e49404"/><stop offset="0.4610" stop-color="#e28c04"/><stop offset="0.4904" stop-color="#e08404"/><stop offset="0.5198" stop-color="#de7804"/><stop offset="0.5493" stop-color="#dc6c04"/><stop offset="0.5787" stop-color="#da6404"/><stop offset="0.6082" stop-color="#d85c04"/><stop offset="0.6376" stop-color="#d46420"/><stop offset="0.6670" stop-color="#d4683c"/><stop offset="0.6965" stop-color="#cc7050"/><stop offset="0.7259" stop-color="#cc7468"/><stop offset="0.7554" stop-color="#cc7888"/><stop offset="0.7848" stop-color="#cc78a0"/><stop offset="0.8142" stop-color="#d06c98"/><stop offset="0.8437" stop-color="#d8587c"/><stop offset="0.8731" stop-color="#e04464"/><stop offset="0.9026" stop-color="#e83048"/><stop offset="0.9320" stop-color="#f02030"/><stop offset="0.9614" stop-color="#f81018"/><stop offset="0.9909" stop-color="#ff0000"/></linearGradient></defs><rect x="840.70" y="418.40" width="7.70" height="241.00" fill="url(#g450_376)"/><path d="M840.70 418.40V659.40H848.40V418.40" fill="none" stroke="#000" stroke-width="0.8"/><g stroke="#000" stroke-width="0.8"><path d="M848.40 657.10h6.2"/><path d="M848.40 633.45h6.2"/><path d="M848.40 609.80h6.2"/><path d="M848.40 586.15h6.2"/><path d="M848.40 562.50h6.2"/><path d="M848.40 538.85h6.2"/><path d="M848.40 515.20h6.2"/><path d="M848.40 491.55h6.2"/><path d="M848.40 467.90h6.2"/><path d="M848.40 444.25h6.2"/><path d="M848.40 420.60h6.2"/></g><g font-family="Liberation Sans, Arial, Helvetica, sans-serif" font-size="10" letter-spacing="0.4" fill="#000"><text x="860.00" y="661.00">0</text><text x="860.00" y="637.35">10</text><text x="860.00" y="613.70">20</text><text x="860.00" y="590.05">30</text><text x="860.00" y="566.40">40</text><text x="860.00" y="542.75">50</text><text x="860.00" y="519.10">60</text><text x="860.00" y="495.45">70</text><text x="860.00" y="471.80">80</text><text x="860.00" y="448.15">90</text><text x="860.00" y="424.50">100</text></g><text font-family="Liberation Sans, Arial, Helvetica, sans-serif" font-size="12" text-anchor="middle" x="844.50" y="415.50">%</text>
<text font-family="Liberation Sans, Arial, Helvetica, sans-serif" font-size="12.08" font-weight="bold" text-anchor="middle" x="635.30" y="395.00">(Model 1 - Model 2)/(Model 1)x100%: O3_8HRMAX</text>
<text font-family="Liberation Sans, Arial, Helvetica, sans-serif" font-size="12" letter-spacing="0.05" text-anchor="middle" x="635.00" y="712.00">Min = -0.6 | Max = 4.3</text><text font-family="Liberation Sans, Arial, Helvetica, sans-serif" font-size="12" letter-spacing="0.05" text-anchor="middle" x="635.30" y="724.00">Mean: 0 |  Median: 0</text>
</svg>
</body></html>
